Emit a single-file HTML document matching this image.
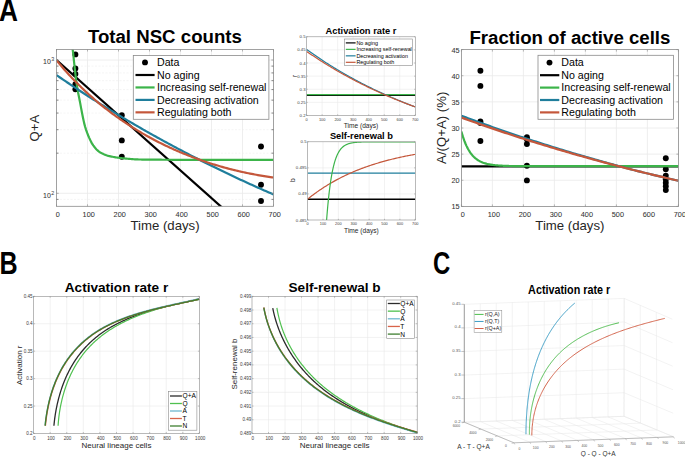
<!DOCTYPE html>
<html><head><meta charset="utf-8"><style>
html,body{margin:0;padding:0;background:#fff;}
body{width:685px;height:457px;overflow:hidden;font-family:"Liberation Sans",sans-serif;}
svg{display:block;}
</style></head><body>
<svg width="685" height="457" viewBox="0 0 685 457" font-family='"Liberation Sans", sans-serif'>
<defs><clipPath id="c1"><rect x="56.5" y="49.5" width="217" height="156.8"/></clipPath><clipPath id="c3"><rect x="461.4" y="49.6" width="217" height="156.8"/></clipPath><clipPath id="cr"><rect x="306.6" y="36.8" width="108.7" height="78.7"/></clipPath><clipPath id="cb"><rect x="307.6" y="141.8" width="107.7" height="78.2"/></clipPath></defs>
<rect width="685" height="457" fill="#fff"/>
<text x="0" y="0" font-size="31" font-weight="bold" fill="#000" transform="translate(-0.9 21) scale(0.847 1)">A</text>
<text x="0" y="0" font-size="31" font-weight="bold" fill="#000" transform="translate(-0.62 273.5) scale(0.81 1)">B</text>
<text x="0" y="0" font-size="31" font-weight="bold" fill="#000" transform="translate(432.9 273.8) scale(0.77 1)">C</text>
<rect x="56.5" y="49.5" width="217" height="156.8" fill="#fff" stroke="none" stroke-width="1"/>
<line x1="56.5" y1="199.4" x2="273.5" y2="199.4" stroke="#f2f2f2" stroke-width="0.8" stroke-dasharray="2 1.5" stroke-linecap="butt"/>
<line x1="56.5" y1="153.17" x2="273.5" y2="153.17" stroke="#f2f2f2" stroke-width="0.8" stroke-dasharray="2 1.5" stroke-linecap="butt"/>
<line x1="56.5" y1="129.7" x2="273.5" y2="129.7" stroke="#f2f2f2" stroke-width="0.8" stroke-dasharray="2 1.5" stroke-linecap="butt"/>
<line x1="56.5" y1="113.05" x2="273.5" y2="113.05" stroke="#f2f2f2" stroke-width="0.8" stroke-dasharray="2 1.5" stroke-linecap="butt"/>
<line x1="56.5" y1="100.13" x2="273.5" y2="100.13" stroke="#f2f2f2" stroke-width="0.8" stroke-dasharray="2 1.5" stroke-linecap="butt"/>
<line x1="56.5" y1="89.57" x2="273.5" y2="89.57" stroke="#f2f2f2" stroke-width="0.8" stroke-dasharray="2 1.5" stroke-linecap="butt"/>
<line x1="56.5" y1="80.65" x2="273.5" y2="80.65" stroke="#f2f2f2" stroke-width="0.8" stroke-dasharray="2 1.5" stroke-linecap="butt"/>
<line x1="56.5" y1="72.92" x2="273.5" y2="72.92" stroke="#f2f2f2" stroke-width="0.8" stroke-dasharray="2 1.5" stroke-linecap="butt"/>
<line x1="56.5" y1="66.1" x2="273.5" y2="66.1" stroke="#f2f2f2" stroke-width="0.8" stroke-dasharray="2 1.5" stroke-linecap="butt"/>
<line x1="56.5" y1="193.3" x2="273.5" y2="193.3" stroke="#eaeaea" stroke-width="0.8" stroke-linecap="butt"/>
<line x1="56.5" y1="60" x2="273.5" y2="60" stroke="#eaeaea" stroke-width="0.8" stroke-linecap="butt"/>
<line x1="87.5" y1="49.5" x2="87.5" y2="206.3" stroke="#eaeaea" stroke-width="0.8" stroke-linecap="butt"/>
<line x1="118.5" y1="49.5" x2="118.5" y2="206.3" stroke="#eaeaea" stroke-width="0.8" stroke-linecap="butt"/>
<line x1="149.5" y1="49.5" x2="149.5" y2="206.3" stroke="#eaeaea" stroke-width="0.8" stroke-linecap="butt"/>
<line x1="180.5" y1="49.5" x2="180.5" y2="206.3" stroke="#eaeaea" stroke-width="0.8" stroke-linecap="butt"/>
<line x1="211.5" y1="49.5" x2="211.5" y2="206.3" stroke="#eaeaea" stroke-width="0.8" stroke-linecap="butt"/>
<line x1="242.5" y1="49.5" x2="242.5" y2="206.3" stroke="#eaeaea" stroke-width="0.8" stroke-linecap="butt"/>
<g clip-path="url(#c1)">
<circle cx="75.4" cy="54.4" r="2.95" fill="#000"/>
<circle cx="75.4" cy="68.5" r="2.95" fill="#000"/>
<circle cx="75.4" cy="73.9" r="2.95" fill="#000"/>
<circle cx="75.4" cy="84.2" r="2.95" fill="#000"/>
<circle cx="75.4" cy="89.3" r="2.95" fill="#000"/>
<circle cx="121.8" cy="115.2" r="2.95" fill="#000"/>
<circle cx="121.8" cy="140.4" r="2.95" fill="#000"/>
<circle cx="121.8" cy="156.8" r="2.95" fill="#000"/>
<circle cx="261" cy="146.5" r="2.95" fill="#000"/>
<circle cx="261" cy="184.7" r="2.95" fill="#000"/>
<circle cx="261" cy="201" r="2.95" fill="#000"/>
<polyline points="56.5,60 222.61,208" fill="none" stroke="#000000" stroke-width="2.2" stroke-linejoin="round"/>
<polyline points="72,45 73.01,52 74.03,61.57 75.04,70.83 76.05,79.57 77.06,86.58 78.08,92.41 79.09,97.46 80.1,102.65 81.11,108.17 82.13,113.44 83.14,118.52 84.15,123.13 85.16,126.85 86.18,130.09 87.19,132.94 88.2,135.48 89.21,137.86 90.23,140.08 91.24,142.12 92.25,143.92 93.26,145.45 94.28,146.78 95.29,148.01 96.3,149.15 97.31,150.18 98.33,151.09 99.34,151.88 100.35,152.53 101.36,153.09 102.38,153.61 103.39,154.09 104.4,154.52 105.41,154.91 106.43,155.26 107.44,155.58 108.45,155.86 109.46,156.11 110.48,156.35 111.49,156.57 112.5,156.78 113.52,156.97 114.53,157.16 115.54,157.33 116.55,157.49 117.57,157.64 118.58,157.78 119.59,157.9 120.6,158.02 121.62,158.13 122.63,158.24 123.64,158.35 124.65,158.45 125.67,158.56 126.68,158.66 127.69,158.75 128.7,158.85 129.72,158.94 130.73,159.02 131.74,159.1 132.75,159.18 133.77,159.24 134.78,159.3 135.79,159.36 136.8,159.41 137.82,159.45 138.83,159.48 139.84,159.5 140.85,159.51 141.87,159.53 142.88,159.54 143.89,159.56 144.9,159.57 145.92,159.58 146.93,159.59 147.94,159.61 148.95,159.62 149.97,159.63 150.98,159.64 151.99,159.65 153.01,159.66 154.02,159.67 155.03,159.68 156.04,159.69 157.06,159.69 158.07,159.7 159.08,159.71 160.09,159.72 161.11,159.72 162.12,159.73 163.13,159.74 164.14,159.74 165.16,159.75 166.17,159.75 167.18,159.76 168.19,159.76 169.21,159.77 170.22,159.77 171.23,159.77 172.24,159.78 173.26,159.78 174.27,159.79 175.28,159.79 176.29,159.79 177.31,159.79 178.32,159.8 179.33,159.8 180.34,159.8 181.36,159.8 182.37,159.8 183.38,159.81 184.39,159.81 185.41,159.81 186.42,159.81 187.43,159.81 188.44,159.82 189.46,159.82 190.47,159.82 191.48,159.82 192.49,159.82 193.51,159.83 194.52,159.83 195.53,159.83 196.55,159.83 197.56,159.83 198.57,159.84 199.58,159.84 200.6,159.84 201.61,159.84 202.62,159.84 203.63,159.84 204.65,159.84 205.66,159.85 206.67,159.85 207.68,159.85 208.7,159.85 209.71,159.85 210.72,159.85 211.73,159.86 212.75,159.86 213.76,159.86 214.77,159.86 215.78,159.86 216.8,159.86 217.81,159.86 218.82,159.87 219.83,159.87 220.85,159.87 221.86,159.87 222.87,159.87 223.88,159.87 224.9,159.87 225.91,159.87 226.92,159.87 227.93,159.88 228.95,159.88 229.96,159.88 230.97,159.88 231.98,159.88 233,159.88 234.01,159.88 235.02,159.88 236.04,159.88 237.05,159.88 238.06,159.89 239.07,159.89 240.09,159.89 241.1,159.89 242.11,159.89 243.12,159.89 244.14,159.89 245.15,159.89 246.16,159.89 247.17,159.89 248.19,159.89 249.2,159.89 250.21,159.89 251.22,159.89 252.24,159.89 253.25,159.9 254.26,159.9 255.27,159.9 256.29,159.9 257.3,159.9 258.31,159.9 259.32,159.9 260.34,159.9 261.35,159.9 262.36,159.9 263.37,159.9 264.39,159.9 265.4,159.9 266.41,159.9 267.42,159.9 268.44,159.9 269.45,159.9 270.46,159.9 271.47,159.9 272.49,159.9 273.5,159.9" fill="none" stroke="#3cb44a" stroke-width="2.2" stroke-linejoin="round"/>
<polyline points="56.5,75.1 58.05,76.16 59.6,77.23 61.15,78.28 62.7,79.34 64.25,80.39 65.8,81.44 67.35,82.48 68.9,83.52 70.45,84.56 72,85.59 73.55,86.62 75.1,87.65 76.65,88.67 78.2,89.69 79.75,90.71 81.3,91.72 82.85,92.73 84.4,93.74 85.95,94.74 87.5,95.74 89.05,96.73 90.6,97.73 92.15,98.72 93.7,99.7 95.25,100.69 96.8,101.67 98.35,102.64 99.9,103.62 101.45,104.59 103,105.55 104.55,106.52 106.1,107.48 107.65,108.43 109.2,109.39 110.75,110.34 112.3,111.29 113.85,112.23 115.4,113.17 116.95,114.11 118.5,115.04 120.05,115.98 121.6,116.91 123.15,117.83 124.7,118.75 126.25,119.67 127.8,120.59 129.35,121.5 130.9,122.41 132.45,123.32 134,124.23 135.55,125.13 137.1,126.03 138.65,126.92 140.2,127.81 141.75,128.7 143.3,129.59 144.85,130.47 146.4,131.35 147.95,132.23 149.5,133.11 151.05,133.98 152.6,134.85 154.15,135.71 155.7,136.58 157.25,137.44 158.8,138.29 160.35,139.15 161.9,140 163.45,140.85 165,141.7 166.55,142.54 168.1,143.38 169.65,144.22 171.2,145.05 172.75,145.88 174.3,146.71 175.85,147.54 177.4,148.36 178.95,149.18 180.5,150 182.05,150.82 183.6,151.63 185.15,152.44 186.7,153.25 188.25,154.05 189.8,154.86 191.35,155.66 192.9,156.45 194.45,157.25 196,158.04 197.55,158.83 199.1,159.61 200.65,160.4 202.2,161.18 203.75,161.96 205.3,162.73 206.85,163.51 208.4,164.28 209.95,165.04 211.5,165.81 213.05,166.57 214.6,167.33 216.15,168.09 217.7,168.85 219.25,169.6 220.8,170.35 222.35,171.1 223.9,171.84 225.45,172.59 227,173.33 228.55,174.07 230.1,174.8 231.65,175.53 233.2,176.26 234.75,176.99 236.3,177.72 237.85,178.44 239.4,179.16 240.95,179.88 242.5,180.6 244.05,181.31 245.6,182.02 247.15,182.73 248.7,183.44 250.25,184.14 251.8,184.85 253.35,185.54 254.9,186.24 256.45,186.94 258,187.63 259.55,188.32 261.1,189.01 262.65,189.69 264.2,190.38 265.75,191.06 267.3,191.74 268.85,192.41 270.4,193.09 271.95,193.76 273.5,194.43" fill="none" stroke="#1f7e9c" stroke-width="2.2" stroke-linejoin="round"/>
<polyline points="56.6,60.37 57.62,61.61 58.63,62.86 59.66,64.09 60.69,65.32 61.72,66.54 62.77,67.76 63.81,68.97 64.87,70.17 65.93,71.36 66.99,72.56 68.07,73.74 69.14,74.92 70.23,76.09 71.32,77.25 72.41,78.41 73.51,79.56 74.62,80.71 75.73,81.85 76.85,82.98 77.98,84.11 79.11,85.23 80.24,86.34 81.38,87.45 82.53,88.55 83.68,89.65 84.84,90.74 86,91.82 87.17,92.9 88.34,93.97 89.52,95.03 90.7,96.09 91.89,97.14 93.08,98.18 94.28,99.22 95.49,100.25 96.7,101.27 97.91,102.29 99.13,103.31 100.35,104.31 101.58,105.31 102.82,106.3 104.06,107.29 105.3,108.27 106.55,109.24 107.8,110.21 109.06,111.17 110.32,112.12 111.59,113.07 112.86,114.01 114.14,114.95 115.42,115.88 116.71,116.8 118,117.72 119.29,118.62 120.59,119.53 121.9,120.42 123.2,121.31 124.52,122.2 125.83,123.07 127.16,123.94 128.48,124.81 129.81,125.66 131.14,126.51 132.48,127.36 133.82,128.2 135.17,129.03 136.52,129.85 137.88,130.67 139.23,131.48 140.6,132.29 141.96,133.09 143.33,133.88 144.71,134.67 146.08,135.44 147.47,136.22 148.85,136.98 150.24,137.74 151.63,138.5 153.03,139.24 154.43,139.98 155.83,140.72 157.24,141.44 158.65,142.16 160.06,142.88 161.48,143.58 162.9,144.29 164.33,144.98 165.75,145.67 167.19,146.35 168.62,147.02 170.06,147.69 171.5,148.35 172.94,149.01 174.39,149.65 175.84,150.3 177.29,150.93 178.75,151.56 180.21,152.18 181.67,152.8 183.14,153.4 184.61,154.01 186.08,154.6 187.55,155.19 189.03,155.77 190.51,156.35 191.99,156.92 193.47,157.48 194.96,158.03 196.45,158.58 197.95,159.13 199.44,159.66 200.94,160.19 202.44,160.71 203.94,161.23 205.45,161.74 206.96,162.24 208.47,162.74 209.98,163.22 211.5,163.71 213.01,164.18 214.53,164.65 216.05,165.11 217.58,165.57 219.11,166.02 220.63,166.46 222.16,166.9 223.7,167.33 225.23,167.75 226.77,168.16 228.31,168.57 229.85,168.97 231.39,169.37 232.93,169.76 234.48,170.14 236.03,170.52 237.58,170.89 239.13,171.25 240.68,171.6 242.24,171.95 243.79,172.29 245.35,172.63 246.91,172.96 248.47,173.28 250.03,173.59 251.6,173.9 253.16,174.2 254.73,174.5 256.3,174.78 257.87,175.06 259.44,175.34 261.01,175.61 262.58,175.87 264.16,176.12 265.73,176.37 267.31,176.61 268.88,176.84 270.46,177.07 272.04,177.29 273.62,177.5" fill="none" stroke="#c4573b" stroke-width="2.2" stroke-linejoin="round"/>
</g>
<rect x="56.5" y="49.5" width="217" height="156.8" fill="none" stroke="#8a8a8a" stroke-width="0.8"/>
<line x1="56.5" y1="206.3" x2="56.5" y2="204.3" stroke="#8a8a8a" stroke-width="0.6" stroke-linecap="butt"/>
<line x1="56.5" y1="49.5" x2="56.5" y2="51.5" stroke="#8a8a8a" stroke-width="0.6" stroke-linecap="butt"/>
<text x="57.7" y="217" font-size="7.3" text-anchor="middle" fill="#333333" stroke="#333" stroke-width="0.05">0</text>
<line x1="87.5" y1="206.3" x2="87.5" y2="204.3" stroke="#8a8a8a" stroke-width="0.6" stroke-linecap="butt"/>
<line x1="87.5" y1="49.5" x2="87.5" y2="51.5" stroke="#8a8a8a" stroke-width="0.6" stroke-linecap="butt"/>
<text x="88.7" y="217" font-size="7.3" text-anchor="middle" fill="#333333" stroke="#333" stroke-width="0.05">100</text>
<line x1="118.5" y1="206.3" x2="118.5" y2="204.3" stroke="#8a8a8a" stroke-width="0.6" stroke-linecap="butt"/>
<line x1="118.5" y1="49.5" x2="118.5" y2="51.5" stroke="#8a8a8a" stroke-width="0.6" stroke-linecap="butt"/>
<text x="119.7" y="217" font-size="7.3" text-anchor="middle" fill="#333333" stroke="#333" stroke-width="0.05">200</text>
<line x1="149.5" y1="206.3" x2="149.5" y2="204.3" stroke="#8a8a8a" stroke-width="0.6" stroke-linecap="butt"/>
<line x1="149.5" y1="49.5" x2="149.5" y2="51.5" stroke="#8a8a8a" stroke-width="0.6" stroke-linecap="butt"/>
<text x="150.7" y="217" font-size="7.3" text-anchor="middle" fill="#333333" stroke="#333" stroke-width="0.05">300</text>
<line x1="180.5" y1="206.3" x2="180.5" y2="204.3" stroke="#8a8a8a" stroke-width="0.6" stroke-linecap="butt"/>
<line x1="180.5" y1="49.5" x2="180.5" y2="51.5" stroke="#8a8a8a" stroke-width="0.6" stroke-linecap="butt"/>
<text x="181.7" y="217" font-size="7.3" text-anchor="middle" fill="#333333" stroke="#333" stroke-width="0.05">400</text>
<line x1="211.5" y1="206.3" x2="211.5" y2="204.3" stroke="#8a8a8a" stroke-width="0.6" stroke-linecap="butt"/>
<line x1="211.5" y1="49.5" x2="211.5" y2="51.5" stroke="#8a8a8a" stroke-width="0.6" stroke-linecap="butt"/>
<text x="212.7" y="217" font-size="7.3" text-anchor="middle" fill="#333333" stroke="#333" stroke-width="0.05">500</text>
<line x1="242.5" y1="206.3" x2="242.5" y2="204.3" stroke="#8a8a8a" stroke-width="0.6" stroke-linecap="butt"/>
<line x1="242.5" y1="49.5" x2="242.5" y2="51.5" stroke="#8a8a8a" stroke-width="0.6" stroke-linecap="butt"/>
<text x="243.7" y="217" font-size="7.3" text-anchor="middle" fill="#333333" stroke="#333" stroke-width="0.05">600</text>
<line x1="273.5" y1="206.3" x2="273.5" y2="204.3" stroke="#8a8a8a" stroke-width="0.6" stroke-linecap="butt"/>
<line x1="273.5" y1="49.5" x2="273.5" y2="51.5" stroke="#8a8a8a" stroke-width="0.6" stroke-linecap="butt"/>
<text x="274.7" y="217" font-size="7.3" text-anchor="middle" fill="#333333" stroke="#333" stroke-width="0.05">700</text>
<line x1="56.5" y1="193.3" x2="58.7" y2="193.3" stroke="#8a8a8a" stroke-width="0.7" stroke-linecap="butt"/>
<line x1="273.5" y1="193.3" x2="271.3" y2="193.3" stroke="#8a8a8a" stroke-width="0.7" stroke-linecap="butt"/>
<line x1="56.5" y1="60" x2="58.7" y2="60" stroke="#8a8a8a" stroke-width="0.7" stroke-linecap="butt"/>
<line x1="273.5" y1="60" x2="271.3" y2="60" stroke="#8a8a8a" stroke-width="0.7" stroke-linecap="butt"/>
<line x1="56.5" y1="199.4" x2="58.5" y2="199.4" stroke="#666" stroke-width="0.8" stroke-linecap="butt"/>
<line x1="273.5" y1="199.4" x2="271.5" y2="199.4" stroke="#666" stroke-width="0.8" stroke-linecap="butt"/>
<line x1="56.5" y1="153.17" x2="58.5" y2="153.17" stroke="#666" stroke-width="0.8" stroke-linecap="butt"/>
<line x1="273.5" y1="153.17" x2="271.5" y2="153.17" stroke="#666" stroke-width="0.8" stroke-linecap="butt"/>
<line x1="56.5" y1="129.7" x2="58.5" y2="129.7" stroke="#666" stroke-width="0.8" stroke-linecap="butt"/>
<line x1="273.5" y1="129.7" x2="271.5" y2="129.7" stroke="#666" stroke-width="0.8" stroke-linecap="butt"/>
<line x1="56.5" y1="113.05" x2="58.5" y2="113.05" stroke="#666" stroke-width="0.8" stroke-linecap="butt"/>
<line x1="273.5" y1="113.05" x2="271.5" y2="113.05" stroke="#666" stroke-width="0.8" stroke-linecap="butt"/>
<line x1="56.5" y1="100.13" x2="58.5" y2="100.13" stroke="#666" stroke-width="0.8" stroke-linecap="butt"/>
<line x1="273.5" y1="100.13" x2="271.5" y2="100.13" stroke="#666" stroke-width="0.8" stroke-linecap="butt"/>
<line x1="56.5" y1="89.57" x2="58.5" y2="89.57" stroke="#666" stroke-width="0.8" stroke-linecap="butt"/>
<line x1="273.5" y1="89.57" x2="271.5" y2="89.57" stroke="#666" stroke-width="0.8" stroke-linecap="butt"/>
<line x1="56.5" y1="80.65" x2="58.5" y2="80.65" stroke="#666" stroke-width="0.8" stroke-linecap="butt"/>
<line x1="273.5" y1="80.65" x2="271.5" y2="80.65" stroke="#666" stroke-width="0.8" stroke-linecap="butt"/>
<line x1="56.5" y1="72.92" x2="58.5" y2="72.92" stroke="#666" stroke-width="0.8" stroke-linecap="butt"/>
<line x1="273.5" y1="72.92" x2="271.5" y2="72.92" stroke="#666" stroke-width="0.8" stroke-linecap="butt"/>
<line x1="56.5" y1="66.1" x2="58.5" y2="66.1" stroke="#666" stroke-width="0.8" stroke-linecap="butt"/>
<line x1="273.5" y1="66.1" x2="271.5" y2="66.1" stroke="#666" stroke-width="0.8" stroke-linecap="butt"/>
<text x="50.8" y="198" font-size="7.0" text-anchor="end" fill="#333333" stroke="#333" stroke-width="0.05">10</text>
<text x="51.2" y="194.8" font-size="5.4" text-anchor="start" fill="#3a3a3a">2</text>
<text x="50.8" y="64.4" font-size="7.0" text-anchor="end" fill="#333333" stroke="#333" stroke-width="0.05">10</text>
<text x="51.2" y="61.2" font-size="5.4" text-anchor="start" fill="#3a3a3a">3</text>
<rect x="133.3" y="55.5" width="135.6" height="63.8" fill="#fff" stroke="#8a8a8a" stroke-width="0.8"/>
<circle cx="145" cy="62.4" r="2.95" fill="#000"/>
<text x="157" y="66.1" font-size="10.65" text-anchor="start" fill="#000">Data</text>
<line x1="135.5" y1="75" x2="154.6" y2="75" stroke="#000000" stroke-width="2.2" stroke-linecap="butt"/>
<text x="157" y="78.6" font-size="10.65" text-anchor="start" fill="#000">No aging</text>
<line x1="135.5" y1="87.45" x2="154.6" y2="87.45" stroke="#3cb44a" stroke-width="2.2" stroke-linecap="butt"/>
<text x="157" y="91.05" font-size="10.65" text-anchor="start" fill="#000">Increasing self-renewal</text>
<line x1="135.5" y1="99.9" x2="154.6" y2="99.9" stroke="#1f7e9c" stroke-width="2.2" stroke-linecap="butt"/>
<text x="157" y="103.5" font-size="10.65" text-anchor="start" fill="#000">Decreasing activation</text>
<line x1="135.5" y1="112.35" x2="154.6" y2="112.35" stroke="#c4573b" stroke-width="2.2" stroke-linecap="butt"/>
<text x="157" y="115.95" font-size="10.65" text-anchor="start" fill="#000">Regulating both</text>
<text x="164.9" y="43.4" font-size="18.65" text-anchor="middle" font-weight="bold" fill="#000">Total NSC counts</text>
<text x="165" y="230.4" font-size="13.2" text-anchor="middle" fill="#262626">Time (days)</text>
<text x="39.4" y="128" font-size="13.2" text-anchor="middle" fill="#262626" transform="rotate(-90 39.4 128)">Q+A</text>
<rect x="461.4" y="49.6" width="217" height="156.8" fill="#fff" stroke="none" stroke-width="1"/>
<line x1="461.4" y1="180.27" x2="678.4" y2="180.27" stroke="#eaeaea" stroke-width="0.8" stroke-linecap="butt"/>
<line x1="461.4" y1="154.13" x2="678.4" y2="154.13" stroke="#eaeaea" stroke-width="0.8" stroke-linecap="butt"/>
<line x1="461.4" y1="128" x2="678.4" y2="128" stroke="#eaeaea" stroke-width="0.8" stroke-linecap="butt"/>
<line x1="461.4" y1="101.87" x2="678.4" y2="101.87" stroke="#eaeaea" stroke-width="0.8" stroke-linecap="butt"/>
<line x1="461.4" y1="75.73" x2="678.4" y2="75.73" stroke="#eaeaea" stroke-width="0.8" stroke-linecap="butt"/>
<line x1="492.4" y1="49.6" x2="492.4" y2="206.4" stroke="#eaeaea" stroke-width="0.8" stroke-linecap="butt"/>
<line x1="523.4" y1="49.6" x2="523.4" y2="206.4" stroke="#eaeaea" stroke-width="0.8" stroke-linecap="butt"/>
<line x1="554.4" y1="49.6" x2="554.4" y2="206.4" stroke="#eaeaea" stroke-width="0.8" stroke-linecap="butt"/>
<line x1="585.4" y1="49.6" x2="585.4" y2="206.4" stroke="#eaeaea" stroke-width="0.8" stroke-linecap="butt"/>
<line x1="616.4" y1="49.6" x2="616.4" y2="206.4" stroke="#eaeaea" stroke-width="0.8" stroke-linecap="butt"/>
<line x1="647.4" y1="49.6" x2="647.4" y2="206.4" stroke="#eaeaea" stroke-width="0.8" stroke-linecap="butt"/>
<g clip-path="url(#c3)">
<circle cx="480.4" cy="70.8" r="2.95" fill="#000"/>
<circle cx="480.4" cy="85.9" r="2.95" fill="#000"/>
<circle cx="480.4" cy="121.4" r="2.95" fill="#000"/>
<circle cx="480.4" cy="123" r="2.95" fill="#000"/>
<circle cx="480.4" cy="141" r="2.95" fill="#000"/>
<circle cx="526.9" cy="137.3" r="2.95" fill="#000"/>
<circle cx="526.9" cy="139.3" r="2.95" fill="#000"/>
<circle cx="526.9" cy="144" r="2.95" fill="#000"/>
<circle cx="526.9" cy="165.7" r="2.95" fill="#000"/>
<circle cx="526.9" cy="180.4" r="2.95" fill="#000"/>
<circle cx="665.8" cy="158.2" r="2.95" fill="#000"/>
<circle cx="665.8" cy="169.2" r="2.95" fill="#000"/>
<circle cx="665.8" cy="175.6" r="2.95" fill="#000"/>
<circle cx="665.8" cy="179.2" r="2.95" fill="#000"/>
<circle cx="665.8" cy="182.7" r="2.95" fill="#000"/>
<circle cx="665.8" cy="186.2" r="2.95" fill="#000"/>
<circle cx="665.8" cy="190.1" r="2.95" fill="#000"/>
<line x1="461.4" y1="166.4" x2="678.4" y2="166.4" stroke="#000000" stroke-width="2.2" stroke-linecap="butt"/>
<polyline points="461.4,131.5 462.13,134.05 462.85,136.42 463.58,138.61 464.3,140.64 465.03,142.52 465.75,144.26 466.48,145.87 467.21,147.37 467.93,148.75 468.66,150.04 469.38,151.22 470.11,152.33 470.83,153.35 471.56,154.29 472.29,155.17 473.01,155.98 473.74,156.73 474.46,157.43 475.19,158.07 475.92,158.67 476.64,159.22 477.37,159.74 478.09,160.21 478.82,160.65 479.54,161.06 480.27,161.44 481,161.79 481.72,162.11 482.45,162.41 483.17,162.69 483.9,162.95 484.62,163.19 485.35,163.41 486.08,163.62 486.8,163.81 487.53,163.98 488.25,164.15 488.98,164.3 489.7,164.44 490.43,164.57 491.16,164.69 491.88,164.8 492.61,164.9 493.33,165 494.06,165.08 494.78,165.17 495.51,165.24 496.24,165.31 496.96,165.38 497.69,165.44 498.41,165.49 499.14,165.55 499.86,165.59 500.59,165.64 501.32,165.68 502.04,165.72 502.77,165.75 503.49,165.79 504.22,165.82 504.95,165.85 505.67,165.87 506.4,165.9 507.12,165.92 507.85,165.94 508.57,165.96 509.3,165.98 510.03,165.99 510.75,166.01 511.48,166.02 512.2,166.03 512.93,166.05 513.65,166.06 514.38,166.07 515.11,166.08 515.83,166.09 516.56,166.1 517.28,166.1 518.01,166.11 518.73,166.12 519.46,166.12 520.19,166.13 520.91,166.13 521.64,166.14 522.36,166.14 523.09,166.15 523.81,166.15 524.54,166.15 525.27,166.16 525.99,166.16 526.72,166.16 527.44,166.17 528.17,166.17 528.89,166.17 529.62,166.17 530.35,166.18 531.07,166.18 531.8,166.18 532.52,166.18 533.25,166.18 533.98,166.18 534.7,166.18 535.43,166.19 536.15,166.19 536.88,166.19 537.6,166.19 538.33,166.19 539.06,166.19 539.78,166.19 540.51,166.19 541.23,166.19 541.96,166.19 542.68,166.19 543.41,166.19 544.14,166.19 544.86,166.19 545.59,166.2 546.31,166.2 547.04,166.2 547.76,166.2 548.49,166.2 549.22,166.2 549.94,166.2 550.67,166.2 551.39,166.2 552.12,166.2 552.84,166.2 553.57,166.2 554.3,166.2 555.02,166.2 555.75,166.2 556.47,166.2 557.2,166.2 557.93,166.2 558.65,166.2 559.38,166.2 560.1,166.2 560.83,166.2 561.55,166.2 562.28,166.2 563.01,166.2 563.73,166.2 564.46,166.2 565.18,166.2 565.91,166.2 566.63,166.2 567.36,166.2 568.09,166.2 568.81,166.2 569.54,166.2 570.26,166.2 570.99,166.2 571.71,166.2 572.44,166.2 573.17,166.2 573.89,166.2 574.62,166.2 575.34,166.2 576.07,166.2 576.79,166.2 577.52,166.2 578.25,166.2 578.97,166.2 579.7,166.2 580.42,166.2 581.15,166.2 581.87,166.2 582.6,166.2 583.33,166.2 584.05,166.2 584.78,166.2 585.5,166.2 586.23,166.2 586.96,166.2 587.68,166.2 588.41,166.2 589.13,166.2 589.86,166.2 590.58,166.2 591.31,166.2 592.04,166.2 592.76,166.2 593.49,166.2 594.21,166.2 594.94,166.2 595.66,166.2 596.39,166.2 597.12,166.2 597.84,166.2 598.57,166.2 599.29,166.2 600.02,166.2 600.74,166.2 601.47,166.2 602.2,166.2 602.92,166.2 603.65,166.2 604.37,166.2 605.1,166.2 605.82,166.2 606.55,166.2 607.28,166.2 608,166.2 608.73,166.2 609.45,166.2 610.18,166.2 610.91,166.2 611.63,166.2 612.36,166.2 613.08,166.2 613.81,166.2 614.53,166.2 615.26,166.2 615.99,166.2 616.71,166.2 617.44,166.2 618.16,166.2 618.89,166.2 619.61,166.2 620.34,166.2 621.07,166.2 621.79,166.2 622.52,166.2 623.24,166.2 623.97,166.2 624.69,166.2 625.42,166.2 626.15,166.2 626.87,166.2 627.6,166.2 628.32,166.2 629.05,166.2 629.77,166.2 630.5,166.2 631.23,166.2 631.95,166.2 632.68,166.2 633.4,166.2 634.13,166.2 634.85,166.2 635.58,166.2 636.31,166.2 637.03,166.2 637.76,166.2 638.48,166.2 639.21,166.2 639.94,166.2 640.66,166.2 641.39,166.2 642.11,166.2 642.84,166.2 643.56,166.2 644.29,166.2 645.02,166.2 645.74,166.2 646.47,166.2 647.19,166.2 647.92,166.2 648.64,166.2 649.37,166.2 650.1,166.2 650.82,166.2 651.55,166.2 652.27,166.2 653,166.2 653.72,166.2 654.45,166.2 655.18,166.2 655.9,166.2 656.63,166.2 657.35,166.2 658.08,166.2 658.8,166.2 659.53,166.2 660.26,166.2 660.98,166.2 661.71,166.2 662.43,166.2 663.16,166.2 663.88,166.2 664.61,166.2 665.34,166.2 666.06,166.2 666.79,166.2 667.51,166.2 668.24,166.2 668.97,166.2 669.69,166.2 670.42,166.2 671.14,166.2 671.87,166.2 672.59,166.2 673.32,166.2 674.05,166.2 674.77,166.2 675.5,166.2 676.22,166.2 676.95,166.2 677.67,166.2 678.4,166.2" fill="none" stroke="#3cb44a" stroke-width="2.2" stroke-linejoin="round"/>
<polyline points="461.4,115.75 463.59,116.57 465.78,117.39 467.98,118.2 470.17,119.01 472.36,119.82 474.55,120.63 476.74,121.42 478.94,122.22 481.13,123.01 483.32,123.8 485.51,124.59 487.7,125.37 489.89,126.15 492.09,126.92 494.28,127.69 496.47,128.46 498.66,129.22 500.85,129.98 503.05,130.74 505.24,131.49 507.43,132.24 509.62,132.99 511.81,133.73 514.01,134.47 516.2,135.2 518.39,135.94 520.58,136.67 522.77,137.39 524.97,138.11 527.16,138.83 529.35,139.55 531.54,140.26 533.73,140.97 535.93,141.67 538.12,142.38 540.31,143.08 542.5,143.77 544.69,144.46 546.88,145.15 549.08,145.84 551.27,146.52 553.46,147.2 555.65,147.88 557.84,148.55 560.04,149.22 562.23,149.89 564.42,150.55 566.61,151.22 568.8,151.87 571,152.53 573.19,153.18 575.38,153.83 577.57,154.48 579.76,155.12 581.96,155.76 584.15,156.4 586.34,157.03 588.53,157.66 590.72,158.29 592.92,158.92 595.11,159.54 597.3,160.16 599.49,160.78 601.68,161.39 603.87,162 606.07,162.61 608.26,163.21 610.45,163.82 612.64,164.42 614.83,165.02 617.03,165.61 619.22,166.2 621.41,166.79 623.6,167.38 625.79,167.96 627.99,168.54 630.18,169.12 632.37,169.7 634.56,170.27 636.75,170.82 638.95,171.37 641.14,171.91 643.33,172.45 645.52,172.99 647.71,173.52 649.91,174.05 652.1,174.58 654.29,175.11 656.48,175.63 658.67,176.16 660.86,176.68 663.06,177.19 665.25,177.71 667.44,178.22 669.63,178.73 671.82,179.24 674.02,179.74 676.21,180.24 678.4,180.74" fill="none" stroke="#1f7e9c" stroke-width="2.2" stroke-linejoin="round"/>
<polyline points="461.4,117.55 463.59,118.35 465.78,119.14 467.98,119.93 470.17,120.72 472.36,121.51 474.55,122.29 476.74,123.07 478.94,123.84 481.13,124.61 483.32,125.38 485.51,126.14 487.7,126.9 489.89,127.65 492.09,128.4 494.28,129.15 496.47,129.9 498.66,130.64 500.85,131.37 503.05,132.11 505.24,132.84 507.43,133.56 509.62,134.29 511.81,135.01 514.01,135.72 516.2,136.44 518.39,137.15 520.58,137.85 522.77,138.55 524.97,139.25 527.16,139.95 529.35,140.64 531.54,141.33 533.73,142.02 535.93,142.7 538.12,143.38 540.31,144.06 542.5,144.73 544.69,145.4 546.88,146.07 549.08,146.73 551.27,147.39 553.46,148.05 555.65,148.7 557.84,149.35 560.04,150 562.23,150.64 564.42,151.29 566.61,151.92 568.8,152.56 571,153.19 573.19,153.82 575.38,154.45 577.57,155.07 579.76,155.69 581.96,156.31 584.15,156.92 586.34,157.54 588.53,158.14 590.72,158.75 592.92,159.35 595.11,159.95 597.3,160.55 599.49,161.14 601.68,161.73 603.87,162.32 606.07,162.91 608.26,163.49 610.45,164.07 612.64,164.65 614.83,165.22 617.03,165.8 619.22,166.37 621.41,166.93 623.6,167.5 625.79,168.06 627.99,168.61 630.18,169.17 632.37,169.72 634.56,170.27 636.75,170.82 638.95,171.37 641.14,171.91 643.33,172.45 645.52,172.99 647.71,173.52 649.91,174.05 652.1,174.58 654.29,175.11 656.48,175.63 658.67,176.16 660.86,176.68 663.06,177.19 665.25,177.71 667.44,178.22 669.63,178.73 671.82,179.24 674.02,179.74 676.21,180.24 678.4,180.74" fill="none" stroke="#c4573b" stroke-width="2.2" stroke-linejoin="round"/>
</g>
<rect x="461.4" y="49.6" width="217" height="156.8" fill="none" stroke="#8a8a8a" stroke-width="0.8"/>
<line x1="461.4" y1="206.4" x2="461.4" y2="204.4" stroke="#8a8a8a" stroke-width="0.6" stroke-linecap="butt"/>
<line x1="461.4" y1="49.6" x2="461.4" y2="51.6" stroke="#8a8a8a" stroke-width="0.6" stroke-linecap="butt"/>
<text x="462.9" y="217" font-size="7.3" text-anchor="middle" fill="#333333" stroke="#333" stroke-width="0.05">0</text>
<line x1="492.4" y1="206.4" x2="492.4" y2="204.4" stroke="#8a8a8a" stroke-width="0.6" stroke-linecap="butt"/>
<line x1="492.4" y1="49.6" x2="492.4" y2="51.6" stroke="#8a8a8a" stroke-width="0.6" stroke-linecap="butt"/>
<text x="493.9" y="217" font-size="7.3" text-anchor="middle" fill="#333333" stroke="#333" stroke-width="0.05">100</text>
<line x1="523.4" y1="206.4" x2="523.4" y2="204.4" stroke="#8a8a8a" stroke-width="0.6" stroke-linecap="butt"/>
<line x1="523.4" y1="49.6" x2="523.4" y2="51.6" stroke="#8a8a8a" stroke-width="0.6" stroke-linecap="butt"/>
<text x="524.9" y="217" font-size="7.3" text-anchor="middle" fill="#333333" stroke="#333" stroke-width="0.05">200</text>
<line x1="554.4" y1="206.4" x2="554.4" y2="204.4" stroke="#8a8a8a" stroke-width="0.6" stroke-linecap="butt"/>
<line x1="554.4" y1="49.6" x2="554.4" y2="51.6" stroke="#8a8a8a" stroke-width="0.6" stroke-linecap="butt"/>
<text x="555.9" y="217" font-size="7.3" text-anchor="middle" fill="#333333" stroke="#333" stroke-width="0.05">300</text>
<line x1="585.4" y1="206.4" x2="585.4" y2="204.4" stroke="#8a8a8a" stroke-width="0.6" stroke-linecap="butt"/>
<line x1="585.4" y1="49.6" x2="585.4" y2="51.6" stroke="#8a8a8a" stroke-width="0.6" stroke-linecap="butt"/>
<text x="586.9" y="217" font-size="7.3" text-anchor="middle" fill="#333333" stroke="#333" stroke-width="0.05">400</text>
<line x1="616.4" y1="206.4" x2="616.4" y2="204.4" stroke="#8a8a8a" stroke-width="0.6" stroke-linecap="butt"/>
<line x1="616.4" y1="49.6" x2="616.4" y2="51.6" stroke="#8a8a8a" stroke-width="0.6" stroke-linecap="butt"/>
<text x="617.9" y="217" font-size="7.3" text-anchor="middle" fill="#333333" stroke="#333" stroke-width="0.05">500</text>
<line x1="647.4" y1="206.4" x2="647.4" y2="204.4" stroke="#8a8a8a" stroke-width="0.6" stroke-linecap="butt"/>
<line x1="647.4" y1="49.6" x2="647.4" y2="51.6" stroke="#8a8a8a" stroke-width="0.6" stroke-linecap="butt"/>
<text x="648.9" y="217" font-size="7.3" text-anchor="middle" fill="#333333" stroke="#333" stroke-width="0.05">600</text>
<line x1="678.4" y1="206.4" x2="678.4" y2="204.4" stroke="#8a8a8a" stroke-width="0.6" stroke-linecap="butt"/>
<line x1="678.4" y1="49.6" x2="678.4" y2="51.6" stroke="#8a8a8a" stroke-width="0.6" stroke-linecap="butt"/>
<text x="679.9" y="217" font-size="7.3" text-anchor="middle" fill="#333333" stroke="#333" stroke-width="0.05">700</text>
<line x1="461.4" y1="206.4" x2="463.4" y2="206.4" stroke="#8a8a8a" stroke-width="0.6" stroke-linecap="butt"/>
<line x1="678.4" y1="206.4" x2="676.4" y2="206.4" stroke="#8a8a8a" stroke-width="0.6" stroke-linecap="butt"/>
<text x="459.5" y="209.3" font-size="7.3" text-anchor="end" fill="#333333" stroke="#333" stroke-width="0.05">15</text>
<line x1="461.4" y1="180.27" x2="463.4" y2="180.27" stroke="#8a8a8a" stroke-width="0.6" stroke-linecap="butt"/>
<line x1="678.4" y1="180.27" x2="676.4" y2="180.27" stroke="#8a8a8a" stroke-width="0.6" stroke-linecap="butt"/>
<text x="459.5" y="183.17" font-size="7.3" text-anchor="end" fill="#333333" stroke="#333" stroke-width="0.05">20</text>
<line x1="461.4" y1="154.13" x2="463.4" y2="154.13" stroke="#8a8a8a" stroke-width="0.6" stroke-linecap="butt"/>
<line x1="678.4" y1="154.13" x2="676.4" y2="154.13" stroke="#8a8a8a" stroke-width="0.6" stroke-linecap="butt"/>
<text x="459.5" y="157.03" font-size="7.3" text-anchor="end" fill="#333333" stroke="#333" stroke-width="0.05">25</text>
<line x1="461.4" y1="128" x2="463.4" y2="128" stroke="#8a8a8a" stroke-width="0.6" stroke-linecap="butt"/>
<line x1="678.4" y1="128" x2="676.4" y2="128" stroke="#8a8a8a" stroke-width="0.6" stroke-linecap="butt"/>
<text x="459.5" y="130.9" font-size="7.3" text-anchor="end" fill="#333333" stroke="#333" stroke-width="0.05">30</text>
<line x1="461.4" y1="101.87" x2="463.4" y2="101.87" stroke="#8a8a8a" stroke-width="0.6" stroke-linecap="butt"/>
<line x1="678.4" y1="101.87" x2="676.4" y2="101.87" stroke="#8a8a8a" stroke-width="0.6" stroke-linecap="butt"/>
<text x="459.5" y="104.77" font-size="7.3" text-anchor="end" fill="#333333" stroke="#333" stroke-width="0.05">35</text>
<line x1="461.4" y1="75.73" x2="463.4" y2="75.73" stroke="#8a8a8a" stroke-width="0.6" stroke-linecap="butt"/>
<line x1="678.4" y1="75.73" x2="676.4" y2="75.73" stroke="#8a8a8a" stroke-width="0.6" stroke-linecap="butt"/>
<text x="459.5" y="78.63" font-size="7.3" text-anchor="end" fill="#333333" stroke="#333" stroke-width="0.05">40</text>
<line x1="461.4" y1="49.6" x2="463.4" y2="49.6" stroke="#8a8a8a" stroke-width="0.6" stroke-linecap="butt"/>
<line x1="678.4" y1="49.6" x2="676.4" y2="49.6" stroke="#8a8a8a" stroke-width="0.6" stroke-linecap="butt"/>
<text x="459.5" y="52.5" font-size="7.3" text-anchor="end" fill="#333333" stroke="#333" stroke-width="0.05">45</text>
<rect x="538" y="55.3" width="135.4" height="64" fill="#fff" stroke="#8a8a8a" stroke-width="0.8"/>
<circle cx="549.5" cy="62.6" r="2.95" fill="#000"/>
<text x="561.3" y="66.2" font-size="10.65" text-anchor="start" fill="#000">Data</text>
<line x1="540" y1="75.2" x2="559.3" y2="75.2" stroke="#000000" stroke-width="2.2" stroke-linecap="butt"/>
<text x="561.3" y="78.8" font-size="10.65" text-anchor="start" fill="#000">No aging</text>
<line x1="540" y1="87.6" x2="559.3" y2="87.6" stroke="#3cb44a" stroke-width="2.2" stroke-linecap="butt"/>
<text x="561.3" y="91.2" font-size="10.65" text-anchor="start" fill="#000">Increasing self-renewal</text>
<line x1="540" y1="100" x2="559.3" y2="100" stroke="#1f7e9c" stroke-width="2.2" stroke-linecap="butt"/>
<text x="561.3" y="103.6" font-size="10.65" text-anchor="start" fill="#000">Decreasing activation</text>
<line x1="540" y1="112.4" x2="559.3" y2="112.4" stroke="#c4573b" stroke-width="2.2" stroke-linecap="butt"/>
<text x="561.3" y="116" font-size="10.65" text-anchor="start" fill="#000">Regulating both</text>
<text x="569.9" y="43.9" font-size="18.65" text-anchor="middle" font-weight="bold" fill="#000">Fraction of active cells</text>
<text x="569.9" y="230.4" font-size="13.2" text-anchor="middle" fill="#262626">Time (days)</text>
<text x="446.5" y="127.8" font-size="13.2" text-anchor="middle" fill="#262626" transform="rotate(-90 446.5 127.8)">A/(Q+A) (%)</text>
<rect x="306.6" y="36.8" width="108.7" height="78.7" fill="#fff" stroke="none" stroke-width="1"/>
<line x1="306.6" y1="102.38" x2="415.3" y2="102.38" stroke="#eaeaea" stroke-width="0.6" stroke-linecap="butt"/>
<line x1="306.6" y1="89.27" x2="415.3" y2="89.27" stroke="#eaeaea" stroke-width="0.6" stroke-linecap="butt"/>
<line x1="306.6" y1="76.15" x2="415.3" y2="76.15" stroke="#eaeaea" stroke-width="0.6" stroke-linecap="butt"/>
<line x1="306.6" y1="63.03" x2="415.3" y2="63.03" stroke="#eaeaea" stroke-width="0.6" stroke-linecap="butt"/>
<line x1="306.6" y1="49.92" x2="415.3" y2="49.92" stroke="#eaeaea" stroke-width="0.6" stroke-linecap="butt"/>
<line x1="322.13" y1="36.8" x2="322.13" y2="115.5" stroke="#eaeaea" stroke-width="0.6" stroke-linecap="butt"/>
<line x1="337.66" y1="36.8" x2="337.66" y2="115.5" stroke="#eaeaea" stroke-width="0.6" stroke-linecap="butt"/>
<line x1="353.19" y1="36.8" x2="353.19" y2="115.5" stroke="#eaeaea" stroke-width="0.6" stroke-linecap="butt"/>
<line x1="368.71" y1="36.8" x2="368.71" y2="115.5" stroke="#eaeaea" stroke-width="0.6" stroke-linecap="butt"/>
<line x1="384.24" y1="36.8" x2="384.24" y2="115.5" stroke="#eaeaea" stroke-width="0.6" stroke-linecap="butt"/>
<line x1="399.77" y1="36.8" x2="399.77" y2="115.5" stroke="#eaeaea" stroke-width="0.6" stroke-linecap="butt"/>
<g clip-path="url(#cr)">
<line x1="306.6" y1="95.3" x2="415.3" y2="95.3" stroke="#000000" stroke-width="1.4" stroke-linecap="butt"/>
<line x1="306.6" y1="94.7" x2="415.3" y2="94.7" stroke="#3cb44a" stroke-width="1.2" stroke-linecap="butt"/>
<polyline points="306.6,49.39 307.7,50.18 308.8,50.97 309.89,51.75 310.99,52.53 312.09,53.3 313.19,54.07 314.29,54.83 315.38,55.59 316.48,56.34 317.58,57.09 318.68,57.83 319.78,58.56 320.87,59.29 321.97,60.02 323.07,60.74 324.17,61.46 325.27,62.17 326.36,62.88 327.46,63.58 328.56,64.28 329.66,64.97 330.76,65.66 331.85,66.35 332.95,67.03 334.05,67.7 335.15,68.37 336.25,69.04 337.34,69.7 338.44,70.35 339.54,71.01 340.64,71.66 341.74,72.3 342.83,72.94 343.93,73.57 345.03,74.21 346.13,74.83 347.23,75.46 348.32,76.07 349.42,76.69 350.52,77.3 351.62,77.9 352.72,78.51 353.81,79.11 354.91,79.7 356.01,80.29 357.11,80.88 358.21,81.46 359.3,82.04 360.4,82.61 361.5,83.18 362.6,83.75 363.69,84.31 364.79,84.87 365.89,85.43 366.99,85.98 368.09,86.53 369.18,87.07 370.28,87.61 371.38,88.15 372.48,88.68 373.58,89.21 374.67,89.74 375.77,90.26 376.87,90.78 377.97,91.3 379.07,91.81 380.16,92.32 381.26,92.83 382.36,93.33 383.46,93.83 384.56,94.32 385.65,94.82 386.75,95.3 387.85,95.79 388.95,96.27 390.05,96.75 391.14,97.23 392.24,97.7 393.34,98.17 394.44,98.64 395.54,99.1 396.63,99.56 397.73,100.02 398.83,100.47 399.93,100.92 401.03,101.37 402.12,101.82 403.22,102.26 404.32,102.7 405.42,103.14 406.52,103.57 407.61,104 408.71,104.43 409.81,104.85 410.91,105.27 412.01,105.69 413.1,106.11 414.2,106.52 415.3,106.93" fill="none" stroke="#1f7e9c" stroke-width="1.2" stroke-linejoin="round"/>
<polyline points="306.6,51.39 307.7,52.15 308.8,52.9 309.89,53.65 310.99,54.4 312.09,55.14 313.19,55.87 314.29,56.6 315.38,57.33 316.48,58.05 317.58,58.77 318.68,59.48 319.78,60.19 320.87,60.89 321.97,61.59 323.07,62.28 324.17,62.97 325.27,63.65 326.36,64.33 327.46,65.01 328.56,65.68 329.66,66.35 330.76,67.01 331.85,67.67 332.95,68.32 334.05,68.97 335.15,69.62 336.25,70.26 337.34,70.9 338.44,71.53 339.54,72.16 340.64,72.78 341.74,73.4 342.83,74.02 343.93,74.63 345.03,75.24 346.13,75.84 347.23,76.45 348.32,77.04 349.42,77.63 350.52,78.22 351.62,78.81 352.72,79.39 353.81,79.97 354.91,80.54 356.01,81.11 357.11,81.68 358.21,82.24 359.3,82.8 360.4,83.35 361.5,83.91 362.6,84.45 363.69,85 364.79,85.54 365.89,86.08 366.99,86.61 368.09,87.14 369.18,87.67 370.28,88.19 371.38,88.71 372.48,89.23 373.58,89.74 374.67,90.25 375.77,90.76 376.87,91.26 377.97,91.76 379.07,92.26 380.16,92.75 381.26,93.24 382.36,93.73 383.46,94.21 384.56,94.69 385.65,95.17 386.75,95.65 387.85,96.12 388.95,96.59 390.05,97.05 391.14,97.51 392.24,97.97 393.34,98.43 394.44,98.88 395.54,99.33 396.63,99.78 397.73,100.23 398.83,100.67 399.93,101.11 401.03,101.54 402.12,101.98 403.22,102.41 404.32,102.83 405.42,103.26 406.52,103.68 407.61,104.1 408.71,104.51 409.81,104.93 410.91,105.34 412.01,105.75 413.1,106.15 414.2,106.56 415.3,106.96" fill="none" stroke="#c4573b" stroke-width="1.2" stroke-linejoin="round"/>
</g>
<rect x="306.6" y="36.8" width="108.7" height="78.7" fill="none" stroke="#8a8a8a" stroke-width="0.6"/>
<line x1="306.6" y1="115.5" x2="306.6" y2="114.3" stroke="#8a8a8a" stroke-width="0.5" stroke-linecap="butt"/>
<text x="306.6" y="121" font-size="3.9" text-anchor="middle" fill="#3a3a3a">0</text>
<line x1="322.13" y1="115.5" x2="322.13" y2="114.3" stroke="#8a8a8a" stroke-width="0.5" stroke-linecap="butt"/>
<text x="322.13" y="121" font-size="3.9" text-anchor="middle" fill="#3a3a3a">100</text>
<line x1="337.66" y1="115.5" x2="337.66" y2="114.3" stroke="#8a8a8a" stroke-width="0.5" stroke-linecap="butt"/>
<text x="337.66" y="121" font-size="3.9" text-anchor="middle" fill="#3a3a3a">200</text>
<line x1="353.19" y1="115.5" x2="353.19" y2="114.3" stroke="#8a8a8a" stroke-width="0.5" stroke-linecap="butt"/>
<text x="353.19" y="121" font-size="3.9" text-anchor="middle" fill="#3a3a3a">300</text>
<line x1="368.71" y1="115.5" x2="368.71" y2="114.3" stroke="#8a8a8a" stroke-width="0.5" stroke-linecap="butt"/>
<text x="368.71" y="121" font-size="3.9" text-anchor="middle" fill="#3a3a3a">400</text>
<line x1="384.24" y1="115.5" x2="384.24" y2="114.3" stroke="#8a8a8a" stroke-width="0.5" stroke-linecap="butt"/>
<text x="384.24" y="121" font-size="3.9" text-anchor="middle" fill="#3a3a3a">500</text>
<line x1="399.77" y1="115.5" x2="399.77" y2="114.3" stroke="#8a8a8a" stroke-width="0.5" stroke-linecap="butt"/>
<text x="399.77" y="121" font-size="3.9" text-anchor="middle" fill="#3a3a3a">600</text>
<line x1="415.3" y1="115.5" x2="415.3" y2="114.3" stroke="#8a8a8a" stroke-width="0.5" stroke-linecap="butt"/>
<text x="415.3" y="121" font-size="3.9" text-anchor="middle" fill="#3a3a3a">700</text>
<line x1="306.6" y1="115.5" x2="307.8" y2="115.5" stroke="#8a8a8a" stroke-width="0.5" stroke-linecap="butt"/>
<line x1="415.3" y1="115.5" x2="414.1" y2="115.5" stroke="#8a8a8a" stroke-width="0.5" stroke-linecap="butt"/>
<text x="305.6" y="117" font-size="4.3" text-anchor="end" fill="#3a3a3a">0.2</text>
<line x1="306.6" y1="102.38" x2="307.8" y2="102.38" stroke="#8a8a8a" stroke-width="0.5" stroke-linecap="butt"/>
<line x1="415.3" y1="102.38" x2="414.1" y2="102.38" stroke="#8a8a8a" stroke-width="0.5" stroke-linecap="butt"/>
<text x="305.6" y="103.88" font-size="4.3" text-anchor="end" fill="#3a3a3a">0.25</text>
<line x1="306.6" y1="89.27" x2="307.8" y2="89.27" stroke="#8a8a8a" stroke-width="0.5" stroke-linecap="butt"/>
<line x1="415.3" y1="89.27" x2="414.1" y2="89.27" stroke="#8a8a8a" stroke-width="0.5" stroke-linecap="butt"/>
<text x="305.6" y="90.77" font-size="4.3" text-anchor="end" fill="#3a3a3a">0.3</text>
<line x1="306.6" y1="76.15" x2="307.8" y2="76.15" stroke="#8a8a8a" stroke-width="0.5" stroke-linecap="butt"/>
<line x1="415.3" y1="76.15" x2="414.1" y2="76.15" stroke="#8a8a8a" stroke-width="0.5" stroke-linecap="butt"/>
<text x="305.6" y="77.65" font-size="4.3" text-anchor="end" fill="#3a3a3a">0.35</text>
<line x1="306.6" y1="63.03" x2="307.8" y2="63.03" stroke="#8a8a8a" stroke-width="0.5" stroke-linecap="butt"/>
<line x1="415.3" y1="63.03" x2="414.1" y2="63.03" stroke="#8a8a8a" stroke-width="0.5" stroke-linecap="butt"/>
<text x="305.6" y="64.53" font-size="4.3" text-anchor="end" fill="#3a3a3a">0.4</text>
<line x1="306.6" y1="49.92" x2="307.8" y2="49.92" stroke="#8a8a8a" stroke-width="0.5" stroke-linecap="butt"/>
<line x1="415.3" y1="49.92" x2="414.1" y2="49.92" stroke="#8a8a8a" stroke-width="0.5" stroke-linecap="butt"/>
<text x="305.6" y="51.42" font-size="4.3" text-anchor="end" fill="#3a3a3a">0.45</text>
<line x1="306.6" y1="36.8" x2="307.8" y2="36.8" stroke="#8a8a8a" stroke-width="0.5" stroke-linecap="butt"/>
<line x1="415.3" y1="36.8" x2="414.1" y2="36.8" stroke="#8a8a8a" stroke-width="0.5" stroke-linecap="butt"/>
<text x="305.6" y="38.3" font-size="4.3" text-anchor="end" fill="#3a3a3a">0.5</text>
<rect x="344.6" y="39" width="67.8" height="26.4" fill="#fff" stroke="#8a8a8a" stroke-width="0.6"/>
<line x1="345.8" y1="42.9" x2="355.6" y2="42.9" stroke="#000000" stroke-width="1.2" stroke-linecap="butt"/>
<text x="356.4" y="44.9" font-size="5.4" text-anchor="start" fill="#000">No aging</text>
<line x1="345.8" y1="49.37" x2="355.6" y2="49.37" stroke="#3cb44a" stroke-width="1.2" stroke-linecap="butt"/>
<text x="356.4" y="51.37" font-size="5.4" text-anchor="start" fill="#000">Increasing self-renewal</text>
<line x1="345.8" y1="55.84" x2="355.6" y2="55.84" stroke="#1f7e9c" stroke-width="1.2" stroke-linecap="butt"/>
<text x="356.4" y="57.84" font-size="5.4" text-anchor="start" fill="#000">Decreasing activation</text>
<line x1="345.8" y1="62.31" x2="355.6" y2="62.31" stroke="#c4573b" stroke-width="1.2" stroke-linecap="butt"/>
<text x="356.4" y="64.31" font-size="5.4" text-anchor="start" fill="#000">Regulating both</text>
<text x="361" y="33.9" font-size="9.3" text-anchor="middle" font-weight="bold" fill="#000">Activation rate r</text>
<text x="361" y="128" font-size="6.6" text-anchor="middle" fill="#262626">Time (days)</text>
<text x="297.3" y="76" font-size="6.6" text-anchor="middle" fill="#262626" transform="rotate(-90 297.3 76)">r</text>
<rect x="307.6" y="141.8" width="107.7" height="78.2" fill="#fff" stroke="none" stroke-width="1"/>
<line x1="307.6" y1="193.93" x2="415.3" y2="193.93" stroke="#eaeaea" stroke-width="0.6" stroke-linecap="butt"/>
<line x1="307.6" y1="167.87" x2="415.3" y2="167.87" stroke="#eaeaea" stroke-width="0.6" stroke-linecap="butt"/>
<line x1="322.99" y1="141.8" x2="322.99" y2="220" stroke="#eaeaea" stroke-width="0.6" stroke-linecap="butt"/>
<line x1="338.37" y1="141.8" x2="338.37" y2="220" stroke="#eaeaea" stroke-width="0.6" stroke-linecap="butt"/>
<line x1="353.76" y1="141.8" x2="353.76" y2="220" stroke="#eaeaea" stroke-width="0.6" stroke-linecap="butt"/>
<line x1="369.14" y1="141.8" x2="369.14" y2="220" stroke="#eaeaea" stroke-width="0.6" stroke-linecap="butt"/>
<line x1="384.53" y1="141.8" x2="384.53" y2="220" stroke="#eaeaea" stroke-width="0.6" stroke-linecap="butt"/>
<line x1="399.91" y1="141.8" x2="399.91" y2="220" stroke="#eaeaea" stroke-width="0.6" stroke-linecap="butt"/>
<g clip-path="url(#cb)">
<line x1="307.6" y1="199.2" x2="415.3" y2="199.2" stroke="#000000" stroke-width="1.4" stroke-linecap="butt"/>
<line x1="307.6" y1="173.2" x2="415.3" y2="173.2" stroke="#1f7e9c" stroke-width="1.2" stroke-linecap="butt"/>
<polyline points="307.6,199.15 308.51,198.42 309.41,197.7 310.32,196.99 311.22,196.29 312.13,195.59 313.03,194.91 313.94,194.24 314.84,193.57 315.75,192.91 316.65,192.26 317.56,191.62 318.46,190.99 319.37,190.36 320.27,189.75 321.18,189.14 322.08,188.54 322.99,187.94 323.89,187.36 324.8,186.78 325.7,186.21 326.61,185.64 327.51,185.08 328.42,184.53 329.32,183.99 330.23,183.46 331.13,182.93 332.04,182.4 332.94,181.89 333.85,181.38 334.75,180.88 335.66,180.38 336.56,179.89 337.47,179.4 338.37,178.93 339.28,178.45 340.18,177.99 341.09,177.53 341.99,177.08 342.9,176.63 343.8,176.18 344.71,175.75 345.61,175.32 346.52,174.89 347.42,174.47 348.33,174.05 349.23,173.64 350.14,173.24 351.04,172.84 351.95,172.45 352.85,172.06 353.76,171.67 354.66,171.29 355.57,170.92 356.47,170.55 357.38,170.18 358.28,169.82 359.19,169.47 360.09,169.11 361,168.77 361.9,168.43 362.81,168.09 363.71,167.75 364.62,167.42 365.52,167.1 366.43,166.78 367.33,166.46 368.24,166.15 369.14,165.84 370.05,165.53 370.95,165.23 371.86,164.93 372.76,164.64 373.67,164.35 374.57,164.06 375.48,163.78 376.38,163.5 377.29,163.22 378.19,162.95 379.1,162.68 380,162.42 380.91,162.15 381.81,161.9 382.72,161.64 383.62,161.39 384.53,161.14 385.43,160.89 386.34,160.65 387.24,160.41 388.15,160.18 389.05,159.94 389.96,159.71 390.86,159.48 391.77,159.26 392.67,159.04 393.58,158.82 394.48,158.6 395.39,158.39 396.29,158.18 397.2,157.97 398.1,157.76 399.01,157.56 399.91,157.36 400.82,157.16 401.72,156.97 402.63,156.78 403.53,156.59 404.44,156.4 405.34,156.21 406.25,156.03 407.15,155.85 408.06,155.67 408.96,155.49 409.87,155.32 410.77,155.15 411.68,154.98 412.58,154.81 413.49,154.64 414.39,154.48 415.3,154.32" fill="none" stroke="#c4573b" stroke-width="1.2" stroke-linejoin="round"/>
<polyline points="324.52,252.64 324.83,247.13 325.13,241.9 325.44,236.92 325.74,232.19 326.04,227.7 326.35,223.43 326.65,219.37 326.95,215.51 327.26,211.85 327.56,208.37 327.86,205.06 328.17,201.91 328.47,198.93 328.77,196.09 329.08,193.39 329.38,190.82 329.69,188.39 329.99,186.07 330.29,183.87 330.6,181.78 330.9,179.79 331.2,177.9 331.51,176.11 331.81,174.4 332.11,172.78 332.42,171.24 332.72,169.78 333.03,168.39 333.33,167.07 333.63,165.81 333.94,164.62 334.24,163.48 334.54,162.4 334.85,161.38 335.15,160.41 335.45,159.48 335.76,158.6 336.06,157.77 336.36,156.97 336.67,156.22 336.97,155.5 337.28,154.82 337.58,154.17 337.88,153.56 338.19,152.97 338.49,152.42 338.79,151.89 339.1,151.39 339.4,150.91 339.7,150.46 340.01,150.03 340.31,149.62 340.61,149.23 340.92,148.86 341.22,148.51 341.53,148.18 341.83,147.86 342.13,147.56 342.44,147.27 342.74,147 343.04,146.74 343.35,146.5 343.65,146.26 343.95,146.04 344.26,145.83 344.56,145.63 344.87,145.44 345.17,145.26 345.47,145.09 345.78,144.92 346.08,144.77 346.38,144.62 346.69,144.48 346.99,144.35 347.29,144.22 347.6,144.1 347.9,143.99 348.2,143.88 348.51,143.77 348.81,143.68 349.12,143.58 349.42,143.49 349.72,143.41 350.03,143.33 350.33,143.25 350.63,143.18 350.94,143.11 351.24,143.05 351.54,142.99 351.85,142.93 352.15,142.87 352.46,142.82 352.76,142.77 353.06,142.72 353.37,142.67 353.67,142.63 353.97,142.59 354.28,142.55 354.58,142.51 354.88,142.48 355.19,142.44 355.49,142.41 355.79,142.38 356.1,142.35 356.4,142.32 356.71,142.3 357.01,142.27 357.31,142.25 357.62,142.23 357.92,142.21 358.22,142.19 358.53,142.17 358.83,142.15 359.13,142.13 359.44,142.11 359.74,142.1 360.05,142.08 360.35,142.07 360.65,142.06 360.96,142.04 361.26,142.03 361.56,142.02 361.87,142.01 362.17,142 362.47,141.99 362.78,141.98 363.08,141.97 363.38,141.96 363.69,141.95 363.99,141.95 364.3,141.94 364.6,141.93 364.9,141.93 365.21,141.92 365.51,141.91 365.81,141.91 366.12,141.9 366.42,141.9 366.72,141.89 367.03,141.89 367.33,141.88 367.64,141.88 367.94,141.88 368.24,141.87 368.55,141.87 368.85,141.86 369.15,141.86 369.46,141.86 369.76,141.86 370.06,141.85 370.37,141.85 370.67,141.85 370.97,141.85 371.28,141.84 371.58,141.84 371.89,141.84 372.19,141.84 372.49,141.84 372.8,141.83 373.1,141.83 373.4,141.83 373.71,141.83 374.01,141.83 374.31,141.83 374.62,141.82 374.92,141.82 375.23,141.82 375.53,141.82 375.83,141.82 376.14,141.82 376.44,141.82 376.74,141.82 377.05,141.82 377.35,141.82 377.65,141.81 377.96,141.81 378.26,141.81 378.56,141.81 378.87,141.81 379.17,141.81 379.48,141.81 379.78,141.81 380.08,141.81 380.39,141.81 380.69,141.81 380.99,141.81 381.3,141.81 381.6,141.81 381.9,141.81 382.21,141.81 382.51,141.81 382.82,141.81 383.12,141.81 383.42,141.81 383.73,141.81 384.03,141.81 384.33,141.8 384.64,141.8 384.94,141.8 385.24,141.8 385.55,141.8 385.85,141.8 386.15,141.8 386.46,141.8 386.76,141.8 387.07,141.8 387.37,141.8 387.67,141.8 387.98,141.8 388.28,141.8 388.58,141.8 388.89,141.8 389.19,141.8 389.49,141.8 389.8,141.8 390.1,141.8 390.4,141.8 390.71,141.8 391.01,141.8 391.32,141.8 391.62,141.8 391.92,141.8 392.23,141.8 392.53,141.8 392.83,141.8 393.14,141.8 393.44,141.8 393.74,141.8 394.05,141.8 394.35,141.8 394.66,141.8 394.96,141.8 395.26,141.8 395.57,141.8 395.87,141.8 396.17,141.8 396.48,141.8 396.78,141.8 397.08,141.8 397.39,141.8 397.69,141.8 397.99,141.8 398.3,141.8 398.6,141.8 398.91,141.8 399.21,141.8 399.51,141.8 399.82,141.8 400.12,141.8 400.42,141.8 400.73,141.8 401.03,141.8 401.33,141.8 401.64,141.8 401.94,141.8 402.25,141.8 402.55,141.8 402.85,141.8 403.16,141.8 403.46,141.8 403.76,141.8 404.07,141.8 404.37,141.8 404.67,141.8 404.98,141.8 405.28,141.8 405.58,141.8 405.89,141.8 406.19,141.8 406.5,141.8 406.8,141.8 407.1,141.8 407.41,141.8 407.71,141.8 408.01,141.8 408.32,141.8 408.62,141.8 408.92,141.8 409.23,141.8 409.53,141.8 409.84,141.8 410.14,141.8 410.44,141.8 410.75,141.8 411.05,141.8 411.35,141.8 411.66,141.8 411.96,141.8 412.26,141.8 412.57,141.8 412.87,141.8 413.17,141.8 413.48,141.8 413.78,141.8 414.09,141.8 414.39,141.8 414.69,141.8 415,141.8 415.3,141.8" fill="none" stroke="#3cb44a" stroke-width="1.2" stroke-linejoin="round"/>
</g>
<rect x="307.6" y="141.8" width="107.7" height="78.2" fill="none" stroke="#8a8a8a" stroke-width="0.6"/>
<line x1="307.6" y1="220" x2="307.6" y2="218.8" stroke="#8a8a8a" stroke-width="0.5" stroke-linecap="butt"/>
<text x="307.6" y="225.2" font-size="3.9" text-anchor="middle" fill="#3a3a3a">0</text>
<line x1="322.99" y1="220" x2="322.99" y2="218.8" stroke="#8a8a8a" stroke-width="0.5" stroke-linecap="butt"/>
<text x="322.99" y="225.2" font-size="3.9" text-anchor="middle" fill="#3a3a3a">100</text>
<line x1="338.37" y1="220" x2="338.37" y2="218.8" stroke="#8a8a8a" stroke-width="0.5" stroke-linecap="butt"/>
<text x="338.37" y="225.2" font-size="3.9" text-anchor="middle" fill="#3a3a3a">200</text>
<line x1="353.76" y1="220" x2="353.76" y2="218.8" stroke="#8a8a8a" stroke-width="0.5" stroke-linecap="butt"/>
<text x="353.76" y="225.2" font-size="3.9" text-anchor="middle" fill="#3a3a3a">300</text>
<line x1="369.14" y1="220" x2="369.14" y2="218.8" stroke="#8a8a8a" stroke-width="0.5" stroke-linecap="butt"/>
<text x="369.14" y="225.2" font-size="3.9" text-anchor="middle" fill="#3a3a3a">400</text>
<line x1="384.53" y1="220" x2="384.53" y2="218.8" stroke="#8a8a8a" stroke-width="0.5" stroke-linecap="butt"/>
<text x="384.53" y="225.2" font-size="3.9" text-anchor="middle" fill="#3a3a3a">500</text>
<line x1="399.91" y1="220" x2="399.91" y2="218.8" stroke="#8a8a8a" stroke-width="0.5" stroke-linecap="butt"/>
<text x="399.91" y="225.2" font-size="3.9" text-anchor="middle" fill="#3a3a3a">600</text>
<line x1="415.3" y1="220" x2="415.3" y2="218.8" stroke="#8a8a8a" stroke-width="0.5" stroke-linecap="butt"/>
<text x="415.3" y="225.2" font-size="3.9" text-anchor="middle" fill="#3a3a3a">700</text>
<line x1="307.6" y1="220" x2="308.8" y2="220" stroke="#8a8a8a" stroke-width="0.5" stroke-linecap="butt"/>
<line x1="415.3" y1="220" x2="414.1" y2="220" stroke="#8a8a8a" stroke-width="0.5" stroke-linecap="butt"/>
<text x="306.6" y="221.5" font-size="4.3" text-anchor="end" fill="#3a3a3a">0.485</text>
<line x1="307.6" y1="193.93" x2="308.8" y2="193.93" stroke="#8a8a8a" stroke-width="0.5" stroke-linecap="butt"/>
<line x1="415.3" y1="193.93" x2="414.1" y2="193.93" stroke="#8a8a8a" stroke-width="0.5" stroke-linecap="butt"/>
<text x="306.6" y="195.43" font-size="4.3" text-anchor="end" fill="#3a3a3a">0.49</text>
<line x1="307.6" y1="167.87" x2="308.8" y2="167.87" stroke="#8a8a8a" stroke-width="0.5" stroke-linecap="butt"/>
<line x1="415.3" y1="167.87" x2="414.1" y2="167.87" stroke="#8a8a8a" stroke-width="0.5" stroke-linecap="butt"/>
<text x="306.6" y="169.37" font-size="4.3" text-anchor="end" fill="#3a3a3a">0.495</text>
<line x1="307.6" y1="141.8" x2="308.8" y2="141.8" stroke="#8a8a8a" stroke-width="0.5" stroke-linecap="butt"/>
<line x1="415.3" y1="141.8" x2="414.1" y2="141.8" stroke="#8a8a8a" stroke-width="0.5" stroke-linecap="butt"/>
<text x="306.6" y="143.3" font-size="4.3" text-anchor="end" fill="#3a3a3a">0.5</text>
<text x="361.4" y="138.9" font-size="9.3" text-anchor="middle" font-weight="bold" fill="#000">Self-renewal b</text>
<text x="361.4" y="232.5" font-size="6.6" text-anchor="middle" fill="#262626">Time (days)</text>
<text x="295.4" y="180.2" font-size="6.6" text-anchor="middle" fill="#262626" transform="rotate(-90 295.4 180.2)">b</text>
<rect x="33.6" y="296.3" width="165.8" height="137.2" fill="#fff" stroke="none" stroke-width="1"/>
<line x1="33.6" y1="406.06" x2="199.4" y2="406.06" stroke="#eaeaea" stroke-width="0.6" stroke-linecap="butt"/>
<line x1="33.6" y1="378.62" x2="199.4" y2="378.62" stroke="#eaeaea" stroke-width="0.6" stroke-linecap="butt"/>
<line x1="33.6" y1="351.18" x2="199.4" y2="351.18" stroke="#eaeaea" stroke-width="0.6" stroke-linecap="butt"/>
<line x1="33.6" y1="323.74" x2="199.4" y2="323.74" stroke="#eaeaea" stroke-width="0.6" stroke-linecap="butt"/>
<line x1="50.18" y1="296.3" x2="50.18" y2="433.5" stroke="#eaeaea" stroke-width="0.6" stroke-linecap="butt"/>
<line x1="66.76" y1="296.3" x2="66.76" y2="433.5" stroke="#eaeaea" stroke-width="0.6" stroke-linecap="butt"/>
<line x1="83.34" y1="296.3" x2="83.34" y2="433.5" stroke="#eaeaea" stroke-width="0.6" stroke-linecap="butt"/>
<line x1="99.92" y1="296.3" x2="99.92" y2="433.5" stroke="#eaeaea" stroke-width="0.6" stroke-linecap="butt"/>
<line x1="116.5" y1="296.3" x2="116.5" y2="433.5" stroke="#eaeaea" stroke-width="0.6" stroke-linecap="butt"/>
<line x1="133.08" y1="296.3" x2="133.08" y2="433.5" stroke="#eaeaea" stroke-width="0.6" stroke-linecap="butt"/>
<line x1="149.66" y1="296.3" x2="149.66" y2="433.5" stroke="#eaeaea" stroke-width="0.6" stroke-linecap="butt"/>
<line x1="166.24" y1="296.3" x2="166.24" y2="433.5" stroke="#eaeaea" stroke-width="0.6" stroke-linecap="butt"/>
<line x1="182.82" y1="296.3" x2="182.82" y2="433.5" stroke="#eaeaea" stroke-width="0.6" stroke-linecap="butt"/>
<polyline points="53.92,425.73 54.04,424.43 54.18,423.13 54.32,421.82 54.47,420.51 54.63,419.2 54.8,417.89 54.99,416.57 55.18,415.26 55.39,413.94 55.6,412.62 55.83,411.3 56.07,409.99 56.32,408.67 56.58,407.35 56.85,406.04 57.13,404.72 57.42,403.41 57.73,402.1 58.04,400.79 58.37,399.48 58.71,398.17 59.06,396.87 59.43,395.57 59.8,394.27 60.19,392.97 60.58,391.68 60.99,390.39 61.42,389.11 61.85,387.83 62.3,386.56 62.75,385.29 63.22,384.02 63.71,382.77 64.2,381.51 64.71,380.27 65.23,379.02 65.76,377.79 66.31,376.56 66.87,375.34 67.44,374.13 68.02,372.92 68.62,371.72 69.23,370.53 69.85,369.35 70.49,368.18 71.14,367.01 71.8,365.86 72.48,364.71 73.17,363.57 73.87,362.45 74.59,361.33 75.32,360.22 76.06,359.12 76.81,358.04 77.58,356.96 78.36,355.9 79.16,354.84 79.96,353.79 80.78,352.76 81.61,351.74 82.45,350.73 83.31,349.73 84.18,348.74 85.06,347.76 85.95,346.79 86.85,345.84 87.76,344.9 88.69,343.97 89.63,343.05 90.58,342.14 91.54,341.25 92.51,340.37 93.49,339.5 94.49,338.64 95.49,337.8 96.51,336.97 97.54,336.16 98.57,335.35 99.62,334.56 100.68,333.78 101.74,333.02 102.82,332.26 103.91,331.52 105,330.79 106.11,330.07 107.22,329.36 108.34,328.67 109.47,327.98 110.61,327.31 111.76,326.65 112.91,326 114.08,325.36 115.25,324.73 116.42,324.11 117.61,323.5 118.8,322.9 120,322.31 121.2,321.73 122.41,321.16 123.63,320.6 124.85,320.05 126.08,319.51 127.32,318.97 128.56,318.45 129.8,317.94 131.05,317.43 132.3,316.93 133.56,316.45 134.83,315.97 136.09,315.49 137.36,315.03 138.64,314.57 139.92,314.12 141.2,313.68 142.48,313.25 143.77,312.82 145.06,312.4 146.36,311.99 147.65,311.59 148.95,311.19 150.25,310.8 151.55,310.41 152.85,310.03 154.16,309.66 155.46,309.29 156.77,308.93 158.07,308.57 159.38,308.22 160.69,307.88 162,307.54 163.31,307.2 164.61,306.87 165.92,306.55 167.23,306.23 168.54,305.91 169.84,305.6 171.14,305.3 172.45,304.99 173.75,304.69 175.05,304.4 176.34,304.11 177.64,303.82 178.93,303.54 180.22,303.26 181.51,302.98 182.79,302.7 184.07,302.43 185.35,302.16 186.63,301.9 187.9,301.63 189.16,301.37 190.42,301.11 191.68,300.85 192.93,300.59 194.18,300.34 195.43,300.09 196.66,299.84 197.9,299.59 199.12,299.34" fill="none" stroke="#2b2b2b" stroke-width="1.3" stroke-linejoin="round"/>
<polyline points="58.09,425.82 58.17,424.52 58.27,423.21 58.38,421.9 58.49,420.59 58.62,419.28 58.76,417.98 58.92,416.67 59.08,415.36 59.25,414.05 59.44,412.74 59.64,411.43 59.85,410.12 60.07,408.82 60.31,407.51 60.55,406.21 60.81,404.91 61.08,403.61 61.36,402.31 61.65,401.02 61.96,399.72 62.27,398.43 62.6,397.15 62.94,395.86 63.3,394.59 63.66,393.31 64.04,392.04 64.43,390.77 64.83,389.51 65.25,388.25 65.67,386.99 66.11,385.75 66.56,384.5 67.03,383.26 67.5,382.03 67.99,380.8 68.49,379.58 69.01,378.37 69.53,377.16 70.07,375.96 70.62,374.77 71.19,373.58 71.77,372.4 72.35,371.23 72.96,370.07 73.57,368.91 74.2,367.76 74.84,366.63 75.5,365.5 76.16,364.37 76.84,363.26 77.54,362.16 78.24,361.07 78.96,359.98 79.69,358.91 80.44,357.85 81.2,356.79 81.97,355.75 82.75,354.72 83.55,353.7 84.36,352.69 85.18,351.69 86.01,350.7 86.86,349.72 87.71,348.75 88.58,347.79 89.46,346.84 90.36,345.91 91.26,344.98 92.17,344.07 93.1,343.17 94.04,342.28 94.98,341.4 95.94,340.53 96.91,339.68 97.89,338.83 98.88,338 99.88,337.18 100.89,336.37 101.91,335.57 102.94,334.78 103.98,334.01 105.03,333.25 106.08,332.49 107.15,331.75 108.23,331.02 109.31,330.3 110.4,329.59 111.5,328.89 112.61,328.2 113.72,327.52 114.85,326.85 115.98,326.19 117.12,325.54 118.26,324.9 119.41,324.27 120.57,323.65 121.74,323.04 122.91,322.44 124.09,321.85 125.27,321.27 126.46,320.7 127.66,320.13 128.86,319.58 130.06,319.03 131.27,318.49 132.49,317.96 133.71,317.44 134.94,316.93 136.17,316.43 137.4,315.93 138.64,315.44 139.88,314.96 141.12,314.49 142.37,314.03 143.62,313.57 144.88,313.12 146.14,312.68 147.4,312.24 148.66,311.82 149.92,311.4 151.19,310.98 152.46,310.58 153.73,310.18 155,309.78 156.28,309.4 157.55,309.02 158.83,308.64 160.11,308.27 161.38,307.91 162.66,307.56 163.94,307.21 165.22,306.86 166.5,306.53 167.78,306.19 169.06,305.87 170.33,305.55 171.61,305.23 172.89,304.92 174.16,304.61 175.43,304.31 176.71,304.01 177.98,303.72 179.24,303.44 180.51,303.15 181.77,302.87 183.04,302.6 184.29,302.33 185.55,302.07 186.8,301.8 188.05,301.55 189.3,301.29 190.54,301.04 191.78,300.8 193.02,300.55 194.25,300.31 195.48,300.08 196.7,299.84 197.92,299.61 199.13,299.38" fill="none" stroke="#4fc04f" stroke-width="1.2" stroke-linejoin="round"/>
<polyline points="45.12,425.22 45.26,423.88 45.4,422.52 45.55,421.17 45.72,419.81 45.89,418.45 46.08,417.09 46.28,415.73 46.49,414.37 46.71,413 46.94,411.64 47.18,410.27 47.44,408.91 47.7,407.55 47.98,406.18 48.27,404.82 48.57,403.46 48.89,402.1 49.22,400.74 49.55,399.38 49.91,398.03 50.27,396.68 50.65,395.33 51.04,393.99 51.44,392.65 51.86,391.31 52.29,389.98 52.73,388.66 53.18,387.33 53.65,386.02 54.14,384.71 54.63,383.4 55.14,382.1 55.67,380.81 56.21,379.52 56.76,378.24 57.32,376.97 57.91,375.71 58.5,374.45 59.11,373.21 59.74,371.97 60.38,370.74 61.03,369.52 61.7,368.31 62.38,367.11 63.08,365.92 63.8,364.74 64.53,363.57 65.27,362.41 66.03,361.26 66.81,360.12 67.59,358.99 68.4,357.88 69.21,356.77 70.04,355.68 70.89,354.6 71.75,353.53 72.62,352.48 73.5,351.43 74.4,350.4 75.31,349.38 76.24,348.37 77.17,347.38 78.12,346.39 79.08,345.42 80.06,344.47 81.04,343.52 82.04,342.59 83.05,341.68 84.07,340.77 85.1,339.88 86.15,339.01 87.2,338.15 88.27,337.3 89.34,336.47 90.43,335.65 91.53,334.84 92.63,334.05 93.75,333.28 94.88,332.52 96.01,331.77 97.16,331.03 98.32,330.31 99.48,329.6 100.65,328.9 101.84,328.22 103.03,327.55 104.22,326.89 105.43,326.24 106.64,325.6 107.87,324.98 109.09,324.37 110.33,323.77 111.57,323.17 112.82,322.59 114.08,322.03 115.34,321.47 116.61,320.92 117.89,320.38 119.17,319.85 120.46,319.33 121.75,318.82 123.05,318.32 124.35,317.83 125.65,317.35 126.97,316.87 128.28,316.41 129.6,315.95 130.93,315.5 132.25,315.06 133.58,314.62 134.92,314.2 136.26,313.78 137.6,313.36 138.94,312.96 140.29,312.56 141.64,312.17 142.99,311.78 144.34,311.4 145.69,311.03 147.05,310.66 148.41,310.3 149.77,309.94 151.13,309.59 152.49,309.24 153.85,308.9 155.21,308.56 156.57,308.22 157.93,307.89 159.29,307.57 160.65,307.25 162.01,306.93 163.37,306.61 164.73,306.3 166.09,305.99 167.44,305.68 168.8,305.38 170.15,305.08 171.5,304.78 172.84,304.48 174.19,304.18 175.53,303.89 176.87,303.6 178.21,303.31 179.54,303.01 180.87,302.72 182.2,302.43 183.52,302.15 184.84,301.86 186.15,301.57 187.46,301.28 188.77,300.99 190.07,300.7 191.36,300.41 192.65,300.12 193.93,299.82 195.21,299.53 196.49,299.23 197.75,298.93 199.01,298.63" fill="none" stroke="#6fb7d0" stroke-width="1.3" stroke-linejoin="round"/>
<polyline points="45.42,425.72 45.56,424.38 45.7,423.02 45.85,421.67 46.02,420.31 46.19,418.95 46.38,417.59 46.58,416.23 46.79,414.87 47.01,413.5 47.24,412.14 47.48,410.77 47.74,409.41 48,408.05 48.28,406.68 48.57,405.32 48.87,403.96 49.19,402.6 49.52,401.24 49.85,399.88 50.21,398.53 50.57,397.18 50.95,395.83 51.34,394.49 51.74,393.15 52.16,391.81 52.59,390.48 53.03,389.16 53.48,387.83 53.95,386.52 54.44,385.21 54.93,383.9 55.44,382.6 55.97,381.31 56.51,380.02 57.06,378.74 57.62,377.47 58.21,376.21 58.8,374.95 59.41,373.71 60.04,372.47 60.68,371.24 61.33,370.02 62,368.81 62.68,367.61 63.38,366.42 64.1,365.24 64.83,364.07 65.57,362.91 66.33,361.76 67.11,360.62 67.89,359.49 68.7,358.38 69.51,357.27 70.34,356.18 71.19,355.1 72.05,354.03 72.92,352.98 73.8,351.93 74.7,350.9 75.61,349.88 76.54,348.87 77.47,347.88 78.42,346.89 79.38,345.92 80.36,344.97 81.34,344.02 82.34,343.09 83.35,342.18 84.37,341.27 85.4,340.38 86.45,339.51 87.5,338.65 88.57,337.8 89.64,336.97 90.73,336.15 91.83,335.34 92.93,334.55 94.05,333.78 95.18,333.02 96.31,332.27 97.46,331.53 98.62,330.81 99.78,330.1 100.95,329.4 102.14,328.72 103.33,328.05 104.52,327.39 105.73,326.74 106.94,326.1 108.17,325.48 109.39,324.87 110.63,324.27 111.87,323.67 113.12,323.09 114.38,322.53 115.64,321.97 116.91,321.42 118.19,320.88 119.47,320.35 120.76,319.83 122.05,319.32 123.35,318.82 124.65,318.33 125.95,317.85 127.27,317.37 128.58,316.91 129.9,316.45 131.23,316 132.55,315.56 133.88,315.12 135.22,314.7 136.56,314.28 137.9,313.86 139.24,313.46 140.59,313.06 141.94,312.67 143.29,312.28 144.64,311.9 145.99,311.53 147.35,311.16 148.71,310.8 150.07,310.44 151.43,310.09 152.79,309.74 154.15,309.4 155.51,309.06 156.87,308.72 158.23,308.39 159.59,308.07 160.95,307.75 162.31,307.43 163.67,307.11 165.03,306.8 166.39,306.49 167.74,306.18 169.1,305.88 170.45,305.58 171.8,305.28 173.14,304.98 174.49,304.68 175.83,304.39 177.17,304.1 178.51,303.81 179.84,303.51 181.17,303.22 182.5,302.93 183.82,302.65 185.14,302.36 186.45,302.07 187.76,301.78 189.07,301.49 190.37,301.2 191.66,300.91 192.95,300.62 194.23,300.32 195.51,300.03 196.79,299.73 198.05,299.43 199.31,299.13" fill="none" stroke="#d8644a" stroke-width="1.3" stroke-linejoin="round"/>
<polyline points="45.12,425.72 45.26,424.38 45.4,423.02 45.55,421.67 45.72,420.31 45.89,418.95 46.08,417.59 46.28,416.23 46.49,414.87 46.71,413.5 46.94,412.14 47.18,410.77 47.44,409.41 47.7,408.05 47.98,406.68 48.27,405.32 48.57,403.96 48.89,402.6 49.22,401.24 49.55,399.88 49.91,398.53 50.27,397.18 50.65,395.83 51.04,394.49 51.44,393.15 51.86,391.81 52.29,390.48 52.73,389.16 53.18,387.83 53.65,386.52 54.14,385.21 54.63,383.9 55.14,382.6 55.67,381.31 56.21,380.02 56.76,378.74 57.32,377.47 57.91,376.21 58.5,374.95 59.11,373.71 59.74,372.47 60.38,371.24 61.03,370.02 61.7,368.81 62.38,367.61 63.08,366.42 63.8,365.24 64.53,364.07 65.27,362.91 66.03,361.76 66.81,360.62 67.59,359.49 68.4,358.38 69.21,357.27 70.04,356.18 70.89,355.1 71.75,354.03 72.62,352.98 73.5,351.93 74.4,350.9 75.31,349.88 76.24,348.87 77.17,347.88 78.12,346.89 79.08,345.92 80.06,344.97 81.04,344.02 82.04,343.09 83.05,342.18 84.07,341.27 85.1,340.38 86.15,339.51 87.2,338.65 88.27,337.8 89.34,336.97 90.43,336.15 91.53,335.34 92.63,334.55 93.75,333.78 94.88,333.02 96.01,332.27 97.16,331.53 98.32,330.81 99.48,330.1 100.65,329.4 101.84,328.72 103.03,328.05 104.22,327.39 105.43,326.74 106.64,326.1 107.87,325.48 109.09,324.87 110.33,324.27 111.57,323.67 112.82,323.09 114.08,322.53 115.34,321.97 116.61,321.42 117.89,320.88 119.17,320.35 120.46,319.83 121.75,319.32 123.05,318.82 124.35,318.33 125.65,317.85 126.97,317.37 128.28,316.91 129.6,316.45 130.93,316 132.25,315.56 133.58,315.12 134.92,314.7 136.26,314.28 137.6,313.86 138.94,313.46 140.29,313.06 141.64,312.67 142.99,312.28 144.34,311.9 145.69,311.53 147.05,311.16 148.41,310.8 149.77,310.44 151.13,310.09 152.49,309.74 153.85,309.4 155.21,309.06 156.57,308.72 157.93,308.39 159.29,308.07 160.65,307.75 162.01,307.43 163.37,307.11 164.73,306.8 166.09,306.49 167.44,306.18 168.8,305.88 170.15,305.58 171.5,305.28 172.84,304.98 174.19,304.68 175.53,304.39 176.87,304.1 178.21,303.81 179.54,303.51 180.87,303.22 182.2,302.93 183.52,302.65 184.84,302.36 186.15,302.07 187.46,301.78 188.77,301.49 190.07,301.2 191.36,300.91 192.65,300.62 193.93,300.32 195.21,300.03 196.49,299.73 197.75,299.43 199.01,299.13" fill="none" stroke="#3f7f30" stroke-width="1.3" stroke-linejoin="round"/>
<rect x="33.6" y="296.3" width="165.8" height="137.2" fill="none" stroke="#8a8a8a" stroke-width="0.6"/>
<line x1="33.6" y1="433.5" x2="33.6" y2="432" stroke="#8a8a8a" stroke-width="0.5" stroke-linecap="butt"/>
<line x1="33.6" y1="296.3" x2="33.6" y2="297.8" stroke="#8a8a8a" stroke-width="0.5" stroke-linecap="butt"/>
<text x="34.4" y="440" font-size="4.6" text-anchor="middle" fill="#3a3a3a">0</text>
<line x1="50.18" y1="433.5" x2="50.18" y2="432" stroke="#8a8a8a" stroke-width="0.5" stroke-linecap="butt"/>
<line x1="50.18" y1="296.3" x2="50.18" y2="297.8" stroke="#8a8a8a" stroke-width="0.5" stroke-linecap="butt"/>
<text x="50.98" y="440" font-size="4.6" text-anchor="middle" fill="#3a3a3a">100</text>
<line x1="66.76" y1="433.5" x2="66.76" y2="432" stroke="#8a8a8a" stroke-width="0.5" stroke-linecap="butt"/>
<line x1="66.76" y1="296.3" x2="66.76" y2="297.8" stroke="#8a8a8a" stroke-width="0.5" stroke-linecap="butt"/>
<text x="67.56" y="440" font-size="4.6" text-anchor="middle" fill="#3a3a3a">200</text>
<line x1="83.34" y1="433.5" x2="83.34" y2="432" stroke="#8a8a8a" stroke-width="0.5" stroke-linecap="butt"/>
<line x1="83.34" y1="296.3" x2="83.34" y2="297.8" stroke="#8a8a8a" stroke-width="0.5" stroke-linecap="butt"/>
<text x="84.14" y="440" font-size="4.6" text-anchor="middle" fill="#3a3a3a">300</text>
<line x1="99.92" y1="433.5" x2="99.92" y2="432" stroke="#8a8a8a" stroke-width="0.5" stroke-linecap="butt"/>
<line x1="99.92" y1="296.3" x2="99.92" y2="297.8" stroke="#8a8a8a" stroke-width="0.5" stroke-linecap="butt"/>
<text x="100.72" y="440" font-size="4.6" text-anchor="middle" fill="#3a3a3a">400</text>
<line x1="116.5" y1="433.5" x2="116.5" y2="432" stroke="#8a8a8a" stroke-width="0.5" stroke-linecap="butt"/>
<line x1="116.5" y1="296.3" x2="116.5" y2="297.8" stroke="#8a8a8a" stroke-width="0.5" stroke-linecap="butt"/>
<text x="117.3" y="440" font-size="4.6" text-anchor="middle" fill="#3a3a3a">500</text>
<line x1="133.08" y1="433.5" x2="133.08" y2="432" stroke="#8a8a8a" stroke-width="0.5" stroke-linecap="butt"/>
<line x1="133.08" y1="296.3" x2="133.08" y2="297.8" stroke="#8a8a8a" stroke-width="0.5" stroke-linecap="butt"/>
<text x="133.88" y="440" font-size="4.6" text-anchor="middle" fill="#3a3a3a">600</text>
<line x1="149.66" y1="433.5" x2="149.66" y2="432" stroke="#8a8a8a" stroke-width="0.5" stroke-linecap="butt"/>
<line x1="149.66" y1="296.3" x2="149.66" y2="297.8" stroke="#8a8a8a" stroke-width="0.5" stroke-linecap="butt"/>
<text x="150.46" y="440" font-size="4.6" text-anchor="middle" fill="#3a3a3a">700</text>
<line x1="166.24" y1="433.5" x2="166.24" y2="432" stroke="#8a8a8a" stroke-width="0.5" stroke-linecap="butt"/>
<line x1="166.24" y1="296.3" x2="166.24" y2="297.8" stroke="#8a8a8a" stroke-width="0.5" stroke-linecap="butt"/>
<text x="167.04" y="440" font-size="4.6" text-anchor="middle" fill="#3a3a3a">800</text>
<line x1="182.82" y1="433.5" x2="182.82" y2="432" stroke="#8a8a8a" stroke-width="0.5" stroke-linecap="butt"/>
<line x1="182.82" y1="296.3" x2="182.82" y2="297.8" stroke="#8a8a8a" stroke-width="0.5" stroke-linecap="butt"/>
<text x="183.62" y="440" font-size="4.6" text-anchor="middle" fill="#3a3a3a">900</text>
<line x1="199.4" y1="433.5" x2="199.4" y2="432" stroke="#8a8a8a" stroke-width="0.5" stroke-linecap="butt"/>
<line x1="199.4" y1="296.3" x2="199.4" y2="297.8" stroke="#8a8a8a" stroke-width="0.5" stroke-linecap="butt"/>
<text x="200.2" y="440" font-size="4.6" text-anchor="middle" fill="#3a3a3a">1000</text>
<line x1="33.6" y1="433.5" x2="35.1" y2="433.5" stroke="#8a8a8a" stroke-width="0.5" stroke-linecap="butt"/>
<line x1="199.4" y1="433.5" x2="197.9" y2="433.5" stroke="#8a8a8a" stroke-width="0.5" stroke-linecap="butt"/>
<text x="32.6" y="435.1" font-size="4.6" text-anchor="end" fill="#3a3a3a">0.2</text>
<line x1="33.6" y1="406.06" x2="35.1" y2="406.06" stroke="#8a8a8a" stroke-width="0.5" stroke-linecap="butt"/>
<line x1="199.4" y1="406.06" x2="197.9" y2="406.06" stroke="#8a8a8a" stroke-width="0.5" stroke-linecap="butt"/>
<text x="32.6" y="407.66" font-size="4.6" text-anchor="end" fill="#3a3a3a">0.25</text>
<line x1="33.6" y1="378.62" x2="35.1" y2="378.62" stroke="#8a8a8a" stroke-width="0.5" stroke-linecap="butt"/>
<line x1="199.4" y1="378.62" x2="197.9" y2="378.62" stroke="#8a8a8a" stroke-width="0.5" stroke-linecap="butt"/>
<text x="32.6" y="380.22" font-size="4.6" text-anchor="end" fill="#3a3a3a">0.3</text>
<line x1="33.6" y1="351.18" x2="35.1" y2="351.18" stroke="#8a8a8a" stroke-width="0.5" stroke-linecap="butt"/>
<line x1="199.4" y1="351.18" x2="197.9" y2="351.18" stroke="#8a8a8a" stroke-width="0.5" stroke-linecap="butt"/>
<text x="32.6" y="352.78" font-size="4.6" text-anchor="end" fill="#3a3a3a">0.35</text>
<line x1="33.6" y1="323.74" x2="35.1" y2="323.74" stroke="#8a8a8a" stroke-width="0.5" stroke-linecap="butt"/>
<line x1="199.4" y1="323.74" x2="197.9" y2="323.74" stroke="#8a8a8a" stroke-width="0.5" stroke-linecap="butt"/>
<text x="32.6" y="325.34" font-size="4.6" text-anchor="end" fill="#3a3a3a">0.4</text>
<line x1="33.6" y1="296.3" x2="35.1" y2="296.3" stroke="#8a8a8a" stroke-width="0.5" stroke-linecap="butt"/>
<line x1="199.4" y1="296.3" x2="197.9" y2="296.3" stroke="#8a8a8a" stroke-width="0.5" stroke-linecap="butt"/>
<text x="32.6" y="297.9" font-size="4.6" text-anchor="end" fill="#3a3a3a">0.45</text>
<rect x="168.4" y="391.6" width="28.5" height="38.6" fill="#fff" stroke="#8a8a8a" stroke-width="0.6"/>
<line x1="170" y1="396" x2="181.9" y2="396" stroke="#2b2b2b" stroke-width="1.3" stroke-linecap="butt"/>
<text x="182.6" y="398.4" font-size="6.6" text-anchor="start" fill="#000">Q+A</text>
<line x1="170" y1="403.5" x2="181.9" y2="403.5" stroke="#4fc04f" stroke-width="1.3" stroke-linecap="butt"/>
<text x="182.6" y="405.9" font-size="6.6" text-anchor="start" fill="#000">Q</text>
<line x1="170" y1="411" x2="181.9" y2="411" stroke="#6fb7d0" stroke-width="1.3" stroke-linecap="butt"/>
<text x="182.6" y="413.4" font-size="6.6" text-anchor="start" fill="#000">A</text>
<line x1="170" y1="418.5" x2="181.9" y2="418.5" stroke="#d8644a" stroke-width="1.3" stroke-linecap="butt"/>
<text x="182.6" y="420.9" font-size="6.6" text-anchor="start" fill="#000">T</text>
<line x1="170" y1="426" x2="181.9" y2="426" stroke="#3f7f30" stroke-width="1.3" stroke-linecap="butt"/>
<text x="182.6" y="428.4" font-size="6.6" text-anchor="start" fill="#000">N</text>
<text x="116.5" y="291.9" font-size="13.6" text-anchor="middle" font-weight="bold" fill="#000">Activation rate r</text>
<text x="116.5" y="448.3" font-size="8.0" text-anchor="middle" fill="#262626">Neural lineage cells</text>
<text x="22" y="365.3" font-size="8.0" text-anchor="middle" fill="#262626" transform="rotate(-90 22 365.3)">Activation r</text>
<rect x="252" y="296.3" width="165.2" height="137.2" fill="#fff" stroke="none" stroke-width="1"/>
<line x1="252" y1="419.78" x2="417.2" y2="419.78" stroke="#eaeaea" stroke-width="0.6" stroke-linecap="butt"/>
<line x1="252" y1="406.06" x2="417.2" y2="406.06" stroke="#eaeaea" stroke-width="0.6" stroke-linecap="butt"/>
<line x1="252" y1="392.34" x2="417.2" y2="392.34" stroke="#eaeaea" stroke-width="0.6" stroke-linecap="butt"/>
<line x1="252" y1="378.62" x2="417.2" y2="378.62" stroke="#eaeaea" stroke-width="0.6" stroke-linecap="butt"/>
<line x1="252" y1="364.9" x2="417.2" y2="364.9" stroke="#eaeaea" stroke-width="0.6" stroke-linecap="butt"/>
<line x1="252" y1="351.18" x2="417.2" y2="351.18" stroke="#eaeaea" stroke-width="0.6" stroke-linecap="butt"/>
<line x1="252" y1="337.46" x2="417.2" y2="337.46" stroke="#eaeaea" stroke-width="0.6" stroke-linecap="butt"/>
<line x1="252" y1="323.74" x2="417.2" y2="323.74" stroke="#eaeaea" stroke-width="0.6" stroke-linecap="butt"/>
<line x1="252" y1="310.02" x2="417.2" y2="310.02" stroke="#eaeaea" stroke-width="0.6" stroke-linecap="butt"/>
<line x1="268.52" y1="296.3" x2="268.52" y2="433.5" stroke="#eaeaea" stroke-width="0.6" stroke-linecap="butt"/>
<line x1="285.04" y1="296.3" x2="285.04" y2="433.5" stroke="#eaeaea" stroke-width="0.6" stroke-linecap="butt"/>
<line x1="301.56" y1="296.3" x2="301.56" y2="433.5" stroke="#eaeaea" stroke-width="0.6" stroke-linecap="butt"/>
<line x1="318.08" y1="296.3" x2="318.08" y2="433.5" stroke="#eaeaea" stroke-width="0.6" stroke-linecap="butt"/>
<line x1="334.6" y1="296.3" x2="334.6" y2="433.5" stroke="#eaeaea" stroke-width="0.6" stroke-linecap="butt"/>
<line x1="351.12" y1="296.3" x2="351.12" y2="433.5" stroke="#eaeaea" stroke-width="0.6" stroke-linecap="butt"/>
<line x1="367.64" y1="296.3" x2="367.64" y2="433.5" stroke="#eaeaea" stroke-width="0.6" stroke-linecap="butt"/>
<line x1="384.16" y1="296.3" x2="384.16" y2="433.5" stroke="#eaeaea" stroke-width="0.6" stroke-linecap="butt"/>
<line x1="400.68" y1="296.3" x2="400.68" y2="433.5" stroke="#eaeaea" stroke-width="0.6" stroke-linecap="butt"/>
<polyline points="272.75,308.07 273,309.33 273.26,310.58 273.54,311.83 273.83,313.08 274.13,314.32 274.44,315.56 274.76,316.8 275.1,318.03 275.45,319.26 275.81,320.49 276.18,321.71 276.57,322.92 276.96,324.13 277.37,325.34 277.79,326.55 278.23,327.75 278.67,328.94 279.12,330.13 279.59,331.32 280.07,332.5 280.56,333.67 281.06,334.85 281.57,336.01 282.09,337.17 282.62,338.33 283.17,339.48 283.72,340.62 284.29,341.76 284.86,342.9 285.45,344.03 286.05,345.15 286.66,346.27 287.27,347.38 287.9,348.49 288.54,349.59 289.19,350.68 289.84,351.77 290.51,352.85 291.19,353.93 291.88,355 292.57,356.06 293.28,357.11 294,358.16 294.72,359.21 295.45,360.24 296.2,361.27 296.95,362.3 297.71,363.31 298.48,364.32 299.26,365.32 300.05,366.31 300.85,367.3 301.66,368.28 302.47,369.25 303.29,370.22 304.13,371.17 304.97,372.12 305.81,373.06 306.67,374 307.54,374.92 308.41,375.84 309.29,376.75 310.18,377.65 311.07,378.54 311.98,379.43 312.89,380.3 313.81,381.17 314.73,382.03 315.67,382.88 316.61,383.72 317.56,384.56 318.51,385.38 319.48,386.2 320.44,387.01 321.42,387.81 322.4,388.6 323.39,389.39 324.39,390.16 325.39,390.93 326.4,391.69 327.41,392.45 328.43,393.19 329.46,393.93 330.49,394.66 331.53,395.39 332.57,396.1 333.62,396.81 334.68,397.52 335.74,398.21 336.8,398.9 337.87,399.58 338.95,400.25 340.03,400.92 341.12,401.58 342.21,402.23 343.3,402.87 344.4,403.51 345.51,404.15 346.62,404.77 347.73,405.39 348.85,406 349.97,406.61 351.09,407.21 352.22,407.8 353.35,408.39 354.49,408.97 355.63,409.55 356.77,410.11 357.92,410.68 359.07,411.23 360.23,411.79 361.38,412.33 362.54,412.87 363.7,413.4 364.87,413.93 366.04,414.46 367.21,414.97 368.38,415.48 369.56,415.99 370.73,416.49 371.92,416.99 373.1,417.48 374.28,417.96 375.47,418.44 376.66,418.92 377.85,419.39 379.04,419.85 380.23,420.31 381.42,420.77 382.62,421.22 383.82,421.67 385.01,422.11 386.21,422.55 387.41,422.98 388.61,423.41 389.82,423.83 391.02,424.25 392.22,424.67 393.42,425.08 394.63,425.49 395.83,425.89 397.03,426.29 398.24,426.69 399.44,427.08 400.64,427.46 401.85,427.85 403.05,428.23 404.25,428.61 405.46,428.98 406.66,429.35 407.86,429.71 409.06,430.08 410.26,430.44 411.45,430.79 412.65,431.15 413.84,431.5 415.04,431.84 416.23,432.19 417.42,432.53" fill="none" stroke="#2b2b2b" stroke-width="1.3" stroke-linejoin="round"/>
<polyline points="276.89,307.8 277.11,309.09 277.34,310.38 277.58,311.66 277.83,312.93 278.09,314.2 278.37,315.46 278.67,316.71 278.97,317.96 279.29,319.2 279.62,320.44 279.96,321.67 280.31,322.9 280.68,324.12 281.06,325.33 281.45,326.54 281.85,327.74 282.27,328.94 282.7,330.12 283.13,331.31 283.59,332.48 284.05,333.65 284.52,334.82 285.01,335.98 285.5,337.13 286.01,338.27 286.53,339.41 287.06,340.54 287.6,341.67 288.15,342.79 288.71,343.9 289.28,345.01 289.87,346.11 290.46,347.2 291.06,348.29 291.68,349.37 292.3,350.44 292.94,351.51 293.58,352.57 294.24,353.62 294.9,354.67 295.58,355.71 296.26,356.74 296.95,357.77 297.66,358.79 298.37,359.8 299.09,360.81 299.82,361.81 300.56,362.8 301.31,363.79 302.07,364.77 302.84,365.74 303.61,366.7 304.4,367.66 305.19,368.61 305.99,369.55 306.8,370.49 307.62,371.42 308.45,372.34 309.28,373.25 310.13,374.16 310.98,375.06 311.84,375.95 312.7,376.84 313.58,377.72 314.46,378.59 315.35,379.45 316.25,380.31 317.15,381.16 318.07,382 318.98,382.83 319.91,383.66 320.84,384.48 321.78,385.29 322.73,386.09 323.68,386.89 324.64,387.68 325.61,388.46 326.58,389.24 327.56,390 328.55,390.77 329.54,391.52 330.54,392.27 331.54,393.01 332.55,393.74 333.57,394.47 334.59,395.19 335.61,395.9 336.64,396.61 337.68,397.31 338.72,398 339.77,398.69 340.82,399.37 341.88,400.04 342.94,400.71 344.01,401.37 345.08,402.03 346.15,402.68 347.23,403.32 348.31,403.96 349.4,404.59 350.49,405.21 351.59,405.83 352.69,406.44 353.79,407.05 354.9,407.65 356.01,408.24 357.13,408.83 358.24,409.41 359.37,409.99 360.49,410.56 361.62,411.13 362.75,411.69 363.88,412.25 365.01,412.79 366.15,413.34 367.29,413.88 368.44,414.41 369.58,414.94 370.73,415.46 371.88,415.98 373.03,416.49 374.19,417 375.34,417.5 376.5,418 377.66,418.49 378.82,418.98 379.98,419.46 381.15,419.94 382.31,420.42 383.48,420.88 384.64,421.35 385.81,421.81 386.98,422.26 388.15,422.71 389.32,423.16 390.49,423.6 391.66,424.04 392.83,424.47 394,424.9 395.17,425.32 396.35,425.74 397.52,426.16 398.69,426.57 399.86,426.98 401.03,427.38 402.2,427.78 403.37,428.17 404.54,428.57 405.71,428.95 406.88,429.34 408.04,429.72 409.21,430.09 410.37,430.47 411.53,430.84 412.69,431.2 413.85,431.57 415.01,431.92 416.17,432.28 417.32,432.63" fill="none" stroke="#4fc04f" stroke-width="1.2" stroke-linejoin="round"/>
<polyline points="263.83,308.22 264.09,309.58 264.36,310.93 264.64,312.28 264.94,313.62 265.26,314.95 265.59,316.28 265.93,317.6 266.28,318.91 266.65,320.21 267.04,321.51 267.43,322.8 267.85,324.08 268.27,325.36 268.71,326.63 269.16,327.89 269.62,329.15 270.1,330.39 270.59,331.63 271.1,332.86 271.61,334.09 272.14,335.31 272.68,336.52 273.23,337.72 273.8,338.92 274.38,340.1 274.97,341.28 275.57,342.46 276.19,343.62 276.81,344.78 277.45,345.93 278.1,347.07 278.76,348.21 279.43,349.33 280.11,350.45 280.81,351.56 281.51,352.67 282.23,353.76 282.96,354.85 283.69,355.93 284.44,357 285.2,358.06 285.97,359.12 286.75,360.17 287.54,361.21 288.34,362.24 289.15,363.26 289.97,364.27 290.79,365.28 291.63,366.28 292.48,367.27 293.34,368.25 294.21,369.23 295.08,370.19 295.97,371.15 296.86,372.1 297.77,373.04 298.68,373.97 299.6,374.89 300.53,375.81 301.46,376.71 302.41,377.61 303.36,378.5 304.33,379.38 305.3,380.25 306.27,381.11 307.26,381.97 308.25,382.81 309.26,383.65 310.26,384.48 311.28,385.3 312.3,386.11 313.33,386.92 314.37,387.71 315.42,388.5 316.47,389.28 317.53,390.05 318.59,390.81 319.66,391.56 320.74,392.31 321.82,393.05 322.91,393.78 324.01,394.51 325.11,395.22 326.21,395.93 327.33,396.63 328.44,397.33 329.57,398.01 330.7,398.69 331.83,399.37 332.97,400.03 334.11,400.69 335.26,401.34 336.42,401.99 337.58,402.63 338.74,403.26 339.91,403.88 341.08,404.5 342.25,405.11 343.43,405.72 344.62,406.32 345.8,406.91 347,407.49 348.19,408.07 349.39,408.65 350.59,409.22 351.79,409.78 353,410.34 354.21,410.89 355.43,411.43 356.64,411.97 357.86,412.5 359.09,413.03 360.31,413.55 361.54,414.07 362.77,414.58 364,415.09 365.23,415.59 366.46,416.09 367.7,416.58 368.94,417.07 370.18,417.55 371.42,418.03 372.66,418.5 373.91,418.97 375.15,419.43 376.4,419.89 377.65,420.34 378.89,420.79 380.14,421.24 381.39,421.68 382.64,422.11 383.89,422.55 385.14,422.98 386.39,423.4 387.64,423.82 388.89,424.24 390.13,424.65 391.38,425.06 392.63,425.47 393.88,425.87 395.13,426.27 396.37,426.66 397.62,427.06 398.86,427.44 400.1,427.83 401.34,428.21 402.58,428.59 403.82,428.97 405.06,429.34 406.29,429.71 407.53,430.08 408.76,430.45 409.99,430.81 411.21,431.17 412.44,431.53 413.66,431.88 414.88,432.24 416.09,432.59 417.31,432.94" fill="none" stroke="#6fb7d0" stroke-width="1.3" stroke-linejoin="round"/>
<polyline points="263.83,307.42 264.09,308.78 264.36,310.13 264.64,311.48 264.94,312.82 265.26,314.15 265.59,315.48 265.93,316.8 266.28,318.11 266.65,319.41 267.04,320.71 267.43,322 267.85,323.28 268.27,324.56 268.71,325.83 269.16,327.09 269.62,328.35 270.1,329.59 270.59,330.83 271.1,332.06 271.61,333.29 272.14,334.51 272.68,335.72 273.23,336.92 273.8,338.12 274.38,339.3 274.97,340.48 275.57,341.66 276.19,342.82 276.81,343.98 277.45,345.13 278.1,346.27 278.76,347.41 279.43,348.53 280.11,349.65 280.81,350.76 281.51,351.87 282.23,352.96 282.96,354.05 283.69,355.13 284.44,356.2 285.2,357.26 285.97,358.32 286.75,359.37 287.54,360.41 288.34,361.44 289.15,362.46 289.97,363.47 290.79,364.48 291.63,365.48 292.48,366.47 293.34,367.45 294.21,368.43 295.08,369.39 295.97,370.35 296.86,371.3 297.77,372.24 298.68,373.17 299.6,374.09 300.53,375.01 301.46,375.91 302.41,376.81 303.36,377.7 304.33,378.58 305.3,379.45 306.27,380.31 307.26,381.17 308.25,382.01 309.26,382.85 310.26,383.68 311.28,384.5 312.3,385.31 313.33,386.12 314.37,386.91 315.42,387.7 316.47,388.48 317.53,389.25 318.59,390.01 319.66,390.76 320.74,391.51 321.82,392.25 322.91,392.98 324.01,393.71 325.11,394.42 326.21,395.13 327.33,395.83 328.44,396.53 329.57,397.21 330.7,397.89 331.83,398.57 332.97,399.23 334.11,399.89 335.26,400.54 336.42,401.19 337.58,401.83 338.74,402.46 339.91,403.08 341.08,403.7 342.25,404.31 343.43,404.92 344.62,405.52 345.8,406.11 347,406.69 348.19,407.27 349.39,407.85 350.59,408.42 351.79,408.98 353,409.54 354.21,410.09 355.43,410.63 356.64,411.17 357.86,411.7 359.09,412.23 360.31,412.75 361.54,413.27 362.77,413.78 364,414.29 365.23,414.79 366.46,415.29 367.7,415.78 368.94,416.27 370.18,416.75 371.42,417.23 372.66,417.7 373.91,418.17 375.15,418.63 376.4,419.09 377.65,419.54 378.89,419.99 380.14,420.44 381.39,420.88 382.64,421.31 383.89,421.75 385.14,422.18 386.39,422.6 387.64,423.02 388.89,423.44 390.13,423.85 391.38,424.26 392.63,424.67 393.88,425.07 395.13,425.47 396.37,425.86 397.62,426.26 398.86,426.64 400.1,427.03 401.34,427.41 402.58,427.79 403.82,428.17 405.06,428.54 406.29,428.91 407.53,429.28 408.76,429.65 409.99,430.01 411.21,430.37 412.44,430.73 413.66,431.08 414.88,431.44 416.09,431.79 417.31,432.14" fill="none" stroke="#d8644a" stroke-width="1.3" stroke-linejoin="round"/>
<polyline points="263.83,307.72 264.09,309.08 264.36,310.43 264.64,311.78 264.94,313.12 265.26,314.45 265.59,315.78 265.93,317.1 266.28,318.41 266.65,319.71 267.04,321.01 267.43,322.3 267.85,323.58 268.27,324.86 268.71,326.13 269.16,327.39 269.62,328.65 270.1,329.89 270.59,331.13 271.1,332.36 271.61,333.59 272.14,334.81 272.68,336.02 273.23,337.22 273.8,338.42 274.38,339.6 274.97,340.78 275.57,341.96 276.19,343.12 276.81,344.28 277.45,345.43 278.1,346.57 278.76,347.71 279.43,348.83 280.11,349.95 280.81,351.06 281.51,352.17 282.23,353.26 282.96,354.35 283.69,355.43 284.44,356.5 285.2,357.56 285.97,358.62 286.75,359.67 287.54,360.71 288.34,361.74 289.15,362.76 289.97,363.77 290.79,364.78 291.63,365.78 292.48,366.77 293.34,367.75 294.21,368.73 295.08,369.69 295.97,370.65 296.86,371.6 297.77,372.54 298.68,373.47 299.6,374.39 300.53,375.31 301.46,376.21 302.41,377.11 303.36,378 304.33,378.88 305.3,379.75 306.27,380.61 307.26,381.47 308.25,382.31 309.26,383.15 310.26,383.98 311.28,384.8 312.3,385.61 313.33,386.42 314.37,387.21 315.42,388 316.47,388.78 317.53,389.55 318.59,390.31 319.66,391.06 320.74,391.81 321.82,392.55 322.91,393.28 324.01,394.01 325.11,394.72 326.21,395.43 327.33,396.13 328.44,396.83 329.57,397.51 330.7,398.19 331.83,398.87 332.97,399.53 334.11,400.19 335.26,400.84 336.42,401.49 337.58,402.13 338.74,402.76 339.91,403.38 341.08,404 342.25,404.61 343.43,405.22 344.62,405.82 345.8,406.41 347,406.99 348.19,407.57 349.39,408.15 350.59,408.72 351.79,409.28 353,409.84 354.21,410.39 355.43,410.93 356.64,411.47 357.86,412 359.09,412.53 360.31,413.05 361.54,413.57 362.77,414.08 364,414.59 365.23,415.09 366.46,415.59 367.7,416.08 368.94,416.57 370.18,417.05 371.42,417.53 372.66,418 373.91,418.47 375.15,418.93 376.4,419.39 377.65,419.84 378.89,420.29 380.14,420.74 381.39,421.18 382.64,421.61 383.89,422.05 385.14,422.48 386.39,422.9 387.64,423.32 388.89,423.74 390.13,424.15 391.38,424.56 392.63,424.97 393.88,425.37 395.13,425.77 396.37,426.16 397.62,426.56 398.86,426.94 400.1,427.33 401.34,427.71 402.58,428.09 403.82,428.47 405.06,428.84 406.29,429.21 407.53,429.58 408.76,429.95 409.99,430.31 411.21,430.67 412.44,431.03 413.66,431.38 414.88,431.74 416.09,432.09 417.31,432.44" fill="none" stroke="#3f7f30" stroke-width="1.3" stroke-linejoin="round"/>
<rect x="252" y="296.3" width="165.2" height="137.2" fill="none" stroke="#8a8a8a" stroke-width="0.6"/>
<line x1="252" y1="433.5" x2="252" y2="432" stroke="#8a8a8a" stroke-width="0.5" stroke-linecap="butt"/>
<line x1="252" y1="296.3" x2="252" y2="297.8" stroke="#8a8a8a" stroke-width="0.5" stroke-linecap="butt"/>
<text x="252.8" y="440" font-size="4.6" text-anchor="middle" fill="#3a3a3a">0</text>
<line x1="268.52" y1="433.5" x2="268.52" y2="432" stroke="#8a8a8a" stroke-width="0.5" stroke-linecap="butt"/>
<line x1="268.52" y1="296.3" x2="268.52" y2="297.8" stroke="#8a8a8a" stroke-width="0.5" stroke-linecap="butt"/>
<text x="269.32" y="440" font-size="4.6" text-anchor="middle" fill="#3a3a3a">100</text>
<line x1="285.04" y1="433.5" x2="285.04" y2="432" stroke="#8a8a8a" stroke-width="0.5" stroke-linecap="butt"/>
<line x1="285.04" y1="296.3" x2="285.04" y2="297.8" stroke="#8a8a8a" stroke-width="0.5" stroke-linecap="butt"/>
<text x="285.84" y="440" font-size="4.6" text-anchor="middle" fill="#3a3a3a">200</text>
<line x1="301.56" y1="433.5" x2="301.56" y2="432" stroke="#8a8a8a" stroke-width="0.5" stroke-linecap="butt"/>
<line x1="301.56" y1="296.3" x2="301.56" y2="297.8" stroke="#8a8a8a" stroke-width="0.5" stroke-linecap="butt"/>
<text x="302.36" y="440" font-size="4.6" text-anchor="middle" fill="#3a3a3a">300</text>
<line x1="318.08" y1="433.5" x2="318.08" y2="432" stroke="#8a8a8a" stroke-width="0.5" stroke-linecap="butt"/>
<line x1="318.08" y1="296.3" x2="318.08" y2="297.8" stroke="#8a8a8a" stroke-width="0.5" stroke-linecap="butt"/>
<text x="318.88" y="440" font-size="4.6" text-anchor="middle" fill="#3a3a3a">400</text>
<line x1="334.6" y1="433.5" x2="334.6" y2="432" stroke="#8a8a8a" stroke-width="0.5" stroke-linecap="butt"/>
<line x1="334.6" y1="296.3" x2="334.6" y2="297.8" stroke="#8a8a8a" stroke-width="0.5" stroke-linecap="butt"/>
<text x="335.4" y="440" font-size="4.6" text-anchor="middle" fill="#3a3a3a">500</text>
<line x1="351.12" y1="433.5" x2="351.12" y2="432" stroke="#8a8a8a" stroke-width="0.5" stroke-linecap="butt"/>
<line x1="351.12" y1="296.3" x2="351.12" y2="297.8" stroke="#8a8a8a" stroke-width="0.5" stroke-linecap="butt"/>
<text x="351.92" y="440" font-size="4.6" text-anchor="middle" fill="#3a3a3a">600</text>
<line x1="367.64" y1="433.5" x2="367.64" y2="432" stroke="#8a8a8a" stroke-width="0.5" stroke-linecap="butt"/>
<line x1="367.64" y1="296.3" x2="367.64" y2="297.8" stroke="#8a8a8a" stroke-width="0.5" stroke-linecap="butt"/>
<text x="368.44" y="440" font-size="4.6" text-anchor="middle" fill="#3a3a3a">700</text>
<line x1="384.16" y1="433.5" x2="384.16" y2="432" stroke="#8a8a8a" stroke-width="0.5" stroke-linecap="butt"/>
<line x1="384.16" y1="296.3" x2="384.16" y2="297.8" stroke="#8a8a8a" stroke-width="0.5" stroke-linecap="butt"/>
<text x="384.96" y="440" font-size="4.6" text-anchor="middle" fill="#3a3a3a">800</text>
<line x1="400.68" y1="433.5" x2="400.68" y2="432" stroke="#8a8a8a" stroke-width="0.5" stroke-linecap="butt"/>
<line x1="400.68" y1="296.3" x2="400.68" y2="297.8" stroke="#8a8a8a" stroke-width="0.5" stroke-linecap="butt"/>
<text x="401.48" y="440" font-size="4.6" text-anchor="middle" fill="#3a3a3a">900</text>
<line x1="417.2" y1="433.5" x2="417.2" y2="432" stroke="#8a8a8a" stroke-width="0.5" stroke-linecap="butt"/>
<line x1="417.2" y1="296.3" x2="417.2" y2="297.8" stroke="#8a8a8a" stroke-width="0.5" stroke-linecap="butt"/>
<text x="418" y="440" font-size="4.6" text-anchor="middle" fill="#3a3a3a">1000</text>
<line x1="252" y1="433.5" x2="253.5" y2="433.5" stroke="#8a8a8a" stroke-width="0.5" stroke-linecap="butt"/>
<line x1="417.2" y1="433.5" x2="415.7" y2="433.5" stroke="#8a8a8a" stroke-width="0.5" stroke-linecap="butt"/>
<text x="251.2" y="435" font-size="4.5" text-anchor="end" fill="#3a3a3a">0.489</text>
<line x1="252" y1="419.78" x2="253.5" y2="419.78" stroke="#8a8a8a" stroke-width="0.5" stroke-linecap="butt"/>
<line x1="417.2" y1="419.78" x2="415.7" y2="419.78" stroke="#8a8a8a" stroke-width="0.5" stroke-linecap="butt"/>
<text x="251.2" y="421.28" font-size="4.5" text-anchor="end" fill="#3a3a3a">0.49</text>
<line x1="252" y1="406.06" x2="253.5" y2="406.06" stroke="#8a8a8a" stroke-width="0.5" stroke-linecap="butt"/>
<line x1="417.2" y1="406.06" x2="415.7" y2="406.06" stroke="#8a8a8a" stroke-width="0.5" stroke-linecap="butt"/>
<text x="251.2" y="407.56" font-size="4.5" text-anchor="end" fill="#3a3a3a">0.491</text>
<line x1="252" y1="392.34" x2="253.5" y2="392.34" stroke="#8a8a8a" stroke-width="0.5" stroke-linecap="butt"/>
<line x1="417.2" y1="392.34" x2="415.7" y2="392.34" stroke="#8a8a8a" stroke-width="0.5" stroke-linecap="butt"/>
<text x="251.2" y="393.84" font-size="4.5" text-anchor="end" fill="#3a3a3a">0.492</text>
<line x1="252" y1="378.62" x2="253.5" y2="378.62" stroke="#8a8a8a" stroke-width="0.5" stroke-linecap="butt"/>
<line x1="417.2" y1="378.62" x2="415.7" y2="378.62" stroke="#8a8a8a" stroke-width="0.5" stroke-linecap="butt"/>
<text x="251.2" y="380.12" font-size="4.5" text-anchor="end" fill="#3a3a3a">0.493</text>
<line x1="252" y1="364.9" x2="253.5" y2="364.9" stroke="#8a8a8a" stroke-width="0.5" stroke-linecap="butt"/>
<line x1="417.2" y1="364.9" x2="415.7" y2="364.9" stroke="#8a8a8a" stroke-width="0.5" stroke-linecap="butt"/>
<text x="251.2" y="366.4" font-size="4.5" text-anchor="end" fill="#3a3a3a">0.494</text>
<line x1="252" y1="351.18" x2="253.5" y2="351.18" stroke="#8a8a8a" stroke-width="0.5" stroke-linecap="butt"/>
<line x1="417.2" y1="351.18" x2="415.7" y2="351.18" stroke="#8a8a8a" stroke-width="0.5" stroke-linecap="butt"/>
<text x="251.2" y="352.68" font-size="4.5" text-anchor="end" fill="#3a3a3a">0.495</text>
<line x1="252" y1="337.46" x2="253.5" y2="337.46" stroke="#8a8a8a" stroke-width="0.5" stroke-linecap="butt"/>
<line x1="417.2" y1="337.46" x2="415.7" y2="337.46" stroke="#8a8a8a" stroke-width="0.5" stroke-linecap="butt"/>
<text x="251.2" y="338.96" font-size="4.5" text-anchor="end" fill="#3a3a3a">0.496</text>
<line x1="252" y1="323.74" x2="253.5" y2="323.74" stroke="#8a8a8a" stroke-width="0.5" stroke-linecap="butt"/>
<line x1="417.2" y1="323.74" x2="415.7" y2="323.74" stroke="#8a8a8a" stroke-width="0.5" stroke-linecap="butt"/>
<text x="251.2" y="325.24" font-size="4.5" text-anchor="end" fill="#3a3a3a">0.497</text>
<line x1="252" y1="310.02" x2="253.5" y2="310.02" stroke="#8a8a8a" stroke-width="0.5" stroke-linecap="butt"/>
<line x1="417.2" y1="310.02" x2="415.7" y2="310.02" stroke="#8a8a8a" stroke-width="0.5" stroke-linecap="butt"/>
<text x="251.2" y="311.52" font-size="4.5" text-anchor="end" fill="#3a3a3a">0.498</text>
<line x1="252" y1="296.3" x2="253.5" y2="296.3" stroke="#8a8a8a" stroke-width="0.5" stroke-linecap="butt"/>
<line x1="417.2" y1="296.3" x2="415.7" y2="296.3" stroke="#8a8a8a" stroke-width="0.5" stroke-linecap="butt"/>
<text x="251.2" y="297.8" font-size="4.5" text-anchor="end" fill="#3a3a3a">0.499</text>
<rect x="386.7" y="300" width="27.8" height="38.3" fill="#fff" stroke="#8a8a8a" stroke-width="0.6"/>
<line x1="387.8" y1="303.5" x2="399.9" y2="303.5" stroke="#2b2b2b" stroke-width="1.3" stroke-linecap="butt"/>
<text x="400.3" y="305.9" font-size="6.6" text-anchor="start" fill="#000">Q+A</text>
<line x1="387.8" y1="311.15" x2="399.9" y2="311.15" stroke="#4fc04f" stroke-width="1.3" stroke-linecap="butt"/>
<text x="400.3" y="313.55" font-size="6.6" text-anchor="start" fill="#000">Q</text>
<line x1="387.8" y1="318.8" x2="399.9" y2="318.8" stroke="#6fb7d0" stroke-width="1.3" stroke-linecap="butt"/>
<text x="400.3" y="321.2" font-size="6.6" text-anchor="start" fill="#000">A</text>
<line x1="387.8" y1="326.45" x2="399.9" y2="326.45" stroke="#d8644a" stroke-width="1.3" stroke-linecap="butt"/>
<text x="400.3" y="328.85" font-size="6.6" text-anchor="start" fill="#000">T</text>
<line x1="387.8" y1="334.1" x2="399.9" y2="334.1" stroke="#3f7f30" stroke-width="1.3" stroke-linecap="butt"/>
<text x="400.3" y="336.5" font-size="6.6" text-anchor="start" fill="#000">N</text>
<text x="334.6" y="291.9" font-size="13.6" text-anchor="middle" font-weight="bold" fill="#000">Self-renewal b</text>
<text x="334.6" y="448.3" font-size="8.0" text-anchor="middle" fill="#262626">Neural lineage cells</text>
<text x="237.3" y="364" font-size="8.0" text-anchor="middle" fill="#262626" transform="rotate(-90 237.3 364)">Self-renewal b</text>
<line x1="464.3" y1="422.2" x2="513.9" y2="442.8" stroke="#e6e6e6" stroke-width="0.5" stroke-linecap="butt"/>
<line x1="480.27" y1="421.61" x2="529.86" y2="442.2" stroke="#e6e6e6" stroke-width="0.5" stroke-linecap="butt"/>
<line x1="496.24" y1="421.02" x2="545.82" y2="441.6" stroke="#e6e6e6" stroke-width="0.5" stroke-linecap="butt"/>
<line x1="512.21" y1="420.43" x2="561.78" y2="441" stroke="#e6e6e6" stroke-width="0.5" stroke-linecap="butt"/>
<line x1="528.18" y1="419.84" x2="577.74" y2="440.4" stroke="#e6e6e6" stroke-width="0.5" stroke-linecap="butt"/>
<line x1="544.15" y1="419.25" x2="593.7" y2="439.8" stroke="#e6e6e6" stroke-width="0.5" stroke-linecap="butt"/>
<line x1="560.12" y1="418.66" x2="609.66" y2="439.2" stroke="#e6e6e6" stroke-width="0.5" stroke-linecap="butt"/>
<line x1="576.09" y1="418.07" x2="625.62" y2="438.6" stroke="#e6e6e6" stroke-width="0.5" stroke-linecap="butt"/>
<line x1="592.06" y1="417.48" x2="641.58" y2="438" stroke="#e6e6e6" stroke-width="0.5" stroke-linecap="butt"/>
<line x1="608.03" y1="416.89" x2="657.54" y2="437.4" stroke="#e6e6e6" stroke-width="0.5" stroke-linecap="butt"/>
<line x1="624" y1="416.3" x2="673.5" y2="436.8" stroke="#e6e6e6" stroke-width="0.5" stroke-linecap="butt"/>
<line x1="464.3" y1="422.2" x2="624" y2="416.3" stroke="#e6e6e6" stroke-width="0.5" stroke-linecap="butt"/>
<line x1="480.83" y1="429.07" x2="640.5" y2="423.13" stroke="#e6e6e6" stroke-width="0.5" stroke-linecap="butt"/>
<line x1="497.37" y1="435.93" x2="657" y2="429.97" stroke="#e6e6e6" stroke-width="0.5" stroke-linecap="butt"/>
<line x1="513.9" y1="442.8" x2="673.5" y2="436.8" stroke="#e6e6e6" stroke-width="0.5" stroke-linecap="butt"/>
<line x1="464.3" y1="422.2" x2="464.3" y2="304.3" stroke="#e6e6e6" stroke-width="0.5" stroke-linecap="butt"/>
<line x1="480.27" y1="421.61" x2="480.29" y2="303.71" stroke="#e6e6e6" stroke-width="0.5" stroke-linecap="butt"/>
<line x1="496.24" y1="421.02" x2="496.28" y2="303.12" stroke="#e6e6e6" stroke-width="0.5" stroke-linecap="butt"/>
<line x1="512.21" y1="420.43" x2="512.27" y2="302.53" stroke="#e6e6e6" stroke-width="0.5" stroke-linecap="butt"/>
<line x1="528.18" y1="419.84" x2="528.26" y2="301.94" stroke="#e6e6e6" stroke-width="0.5" stroke-linecap="butt"/>
<line x1="544.15" y1="419.25" x2="544.25" y2="301.35" stroke="#e6e6e6" stroke-width="0.5" stroke-linecap="butt"/>
<line x1="560.12" y1="418.66" x2="560.24" y2="300.76" stroke="#e6e6e6" stroke-width="0.5" stroke-linecap="butt"/>
<line x1="576.09" y1="418.07" x2="576.23" y2="300.17" stroke="#e6e6e6" stroke-width="0.5" stroke-linecap="butt"/>
<line x1="592.06" y1="417.48" x2="592.22" y2="299.58" stroke="#e6e6e6" stroke-width="0.5" stroke-linecap="butt"/>
<line x1="608.03" y1="416.89" x2="608.21" y2="298.99" stroke="#e6e6e6" stroke-width="0.5" stroke-linecap="butt"/>
<line x1="624" y1="416.3" x2="624.2" y2="298.4" stroke="#e6e6e6" stroke-width="0.5" stroke-linecap="butt"/>
<line x1="464.3" y1="422.2" x2="624" y2="416.3" stroke="#e6e6e6" stroke-width="0.5" stroke-linecap="butt"/>
<line x1="464.3" y1="398.62" x2="624.04" y2="392.72" stroke="#e6e6e6" stroke-width="0.5" stroke-linecap="butt"/>
<line x1="464.3" y1="375.04" x2="624.08" y2="369.14" stroke="#e6e6e6" stroke-width="0.5" stroke-linecap="butt"/>
<line x1="464.3" y1="351.46" x2="624.12" y2="345.56" stroke="#e6e6e6" stroke-width="0.5" stroke-linecap="butt"/>
<line x1="464.3" y1="327.88" x2="624.16" y2="321.98" stroke="#e6e6e6" stroke-width="0.5" stroke-linecap="butt"/>
<line x1="464.3" y1="304.3" x2="624.2" y2="298.4" stroke="#e6e6e6" stroke-width="0.5" stroke-linecap="butt"/>
<line x1="624" y1="416.3" x2="624.2" y2="298.4" stroke="#e6e6e6" stroke-width="0.5" stroke-linecap="butt"/>
<line x1="640.5" y1="423.13" x2="640.23" y2="305.33" stroke="#e6e6e6" stroke-width="0.5" stroke-linecap="butt"/>
<line x1="657" y1="429.97" x2="656.27" y2="312.27" stroke="#e6e6e6" stroke-width="0.5" stroke-linecap="butt"/>
<line x1="624" y1="416.3" x2="673.5" y2="436.8" stroke="#e6e6e6" stroke-width="0.5" stroke-linecap="butt"/>
<line x1="624.04" y1="392.72" x2="673.26" y2="413.28" stroke="#e6e6e6" stroke-width="0.5" stroke-linecap="butt"/>
<line x1="624.08" y1="369.14" x2="673.02" y2="389.76" stroke="#e6e6e6" stroke-width="0.5" stroke-linecap="butt"/>
<line x1="624.12" y1="345.56" x2="672.78" y2="366.24" stroke="#e6e6e6" stroke-width="0.5" stroke-linecap="butt"/>
<line x1="624.16" y1="321.98" x2="672.54" y2="342.72" stroke="#e6e6e6" stroke-width="0.5" stroke-linecap="butt"/>
<line x1="624.2" y1="298.4" x2="672.3" y2="319.2" stroke="#e6e6e6" stroke-width="0.5" stroke-linecap="butt"/>
<line x1="464.3" y1="304.3" x2="464.3" y2="422.2" stroke="#777" stroke-width="0.7" stroke-linecap="butt"/>
<line x1="464.3" y1="422.2" x2="513.9" y2="442.8" stroke="#999" stroke-width="0.6" stroke-linecap="butt"/>
<line x1="513.9" y1="442.8" x2="673.5" y2="436.8" stroke="#999" stroke-width="0.6" stroke-linecap="butt"/>
<line x1="513.9" y1="442.8" x2="514.8" y2="444.4" stroke="#999" stroke-width="0.5" stroke-linecap="butt"/>
<line x1="529.86" y1="442.2" x2="530.76" y2="443.8" stroke="#999" stroke-width="0.5" stroke-linecap="butt"/>
<line x1="545.82" y1="441.6" x2="546.72" y2="443.2" stroke="#999" stroke-width="0.5" stroke-linecap="butt"/>
<line x1="561.78" y1="441" x2="562.68" y2="442.6" stroke="#999" stroke-width="0.5" stroke-linecap="butt"/>
<line x1="577.74" y1="440.4" x2="578.64" y2="442" stroke="#999" stroke-width="0.5" stroke-linecap="butt"/>
<line x1="593.7" y1="439.8" x2="594.6" y2="441.4" stroke="#999" stroke-width="0.5" stroke-linecap="butt"/>
<line x1="609.66" y1="439.2" x2="610.56" y2="440.8" stroke="#999" stroke-width="0.5" stroke-linecap="butt"/>
<line x1="625.62" y1="438.6" x2="626.52" y2="440.2" stroke="#999" stroke-width="0.5" stroke-linecap="butt"/>
<line x1="641.58" y1="438" x2="642.48" y2="439.6" stroke="#999" stroke-width="0.5" stroke-linecap="butt"/>
<line x1="657.54" y1="437.4" x2="658.44" y2="439" stroke="#999" stroke-width="0.5" stroke-linecap="butt"/>
<line x1="673.5" y1="436.8" x2="674.4" y2="438.4" stroke="#999" stroke-width="0.5" stroke-linecap="butt"/>
<line x1="464.3" y1="422.2" x2="462.1" y2="422.8" stroke="#999" stroke-width="0.5" stroke-linecap="butt"/>
<line x1="480.83" y1="429.07" x2="478.63" y2="429.67" stroke="#999" stroke-width="0.5" stroke-linecap="butt"/>
<line x1="497.37" y1="435.93" x2="495.17" y2="436.53" stroke="#999" stroke-width="0.5" stroke-linecap="butt"/>
<line x1="513.9" y1="442.8" x2="511.7" y2="443.4" stroke="#999" stroke-width="0.5" stroke-linecap="butt"/>
<line x1="461.3" y1="422.2" x2="464.3" y2="422.2" stroke="#888" stroke-width="0.5" stroke-linecap="butt"/>
<text x="460.6" y="422.8" font-size="4.3" text-anchor="end" fill="#555">0.2</text>
<line x1="461.3" y1="398.62" x2="464.3" y2="398.62" stroke="#888" stroke-width="0.5" stroke-linecap="butt"/>
<text x="460.6" y="399.22" font-size="4.3" text-anchor="end" fill="#555">0.25</text>
<line x1="461.3" y1="375.04" x2="464.3" y2="375.04" stroke="#888" stroke-width="0.5" stroke-linecap="butt"/>
<text x="460.6" y="375.64" font-size="4.3" text-anchor="end" fill="#555">0.3</text>
<line x1="461.3" y1="351.46" x2="464.3" y2="351.46" stroke="#888" stroke-width="0.5" stroke-linecap="butt"/>
<text x="460.6" y="352.06" font-size="4.3" text-anchor="end" fill="#555">0.35</text>
<line x1="461.3" y1="327.88" x2="464.3" y2="327.88" stroke="#888" stroke-width="0.5" stroke-linecap="butt"/>
<text x="460.6" y="328.48" font-size="4.3" text-anchor="end" fill="#555">0.4</text>
<line x1="461.3" y1="304.3" x2="464.3" y2="304.3" stroke="#888" stroke-width="0.5" stroke-linecap="butt"/>
<text x="460.6" y="304.9" font-size="4.3" text-anchor="end" fill="#555">0.45</text>
<text x="456.3" y="426.8" font-size="3.3" text-anchor="middle" fill="#555">6000</text>
<text x="472.83" y="433.67" font-size="3.3" text-anchor="middle" fill="#555">4000</text>
<text x="489.37" y="440.53" font-size="3.3" text-anchor="middle" fill="#555">2000</text>
<text x="505.9" y="447.4" font-size="3.3" text-anchor="middle" fill="#555">0</text>
<text x="519.5" y="449.5" font-size="3.4" text-anchor="middle" fill="#555">0</text>
<text x="535.71" y="448.9" font-size="3.4" text-anchor="middle" fill="#555">100</text>
<text x="551.92" y="448.3" font-size="3.4" text-anchor="middle" fill="#555">200</text>
<text x="568.13" y="447.7" font-size="3.4" text-anchor="middle" fill="#555">300</text>
<text x="584.34" y="447.1" font-size="3.4" text-anchor="middle" fill="#555">400</text>
<text x="600.55" y="446.5" font-size="3.4" text-anchor="middle" fill="#555">500</text>
<text x="616.76" y="445.9" font-size="3.4" text-anchor="middle" fill="#555">600</text>
<text x="632.97" y="445.3" font-size="3.4" text-anchor="middle" fill="#555">700</text>
<text x="649.18" y="444.7" font-size="3.4" text-anchor="middle" fill="#555">800</text>
<text x="665.39" y="444.1" font-size="3.4" text-anchor="middle" fill="#555">900</text>
<text x="681.6" y="443.5" font-size="3.4" text-anchor="middle" fill="#555">1000</text>
<polyline points="525.96,434.29 525.96,433.39 525.97,432.49 525.98,431.6 525.99,430.7 526,429.8 526.01,428.9 526.03,428 526.05,427.09 526.08,426.19 526.1,425.29 526.13,424.38 526.16,423.48 526.2,422.57 526.23,421.67 526.27,420.76 526.32,419.86 526.36,418.95 526.41,418.04 526.46,417.13 526.52,416.23 526.57,415.32 526.63,414.41 526.7,413.5 526.76,412.59 526.83,411.68 526.9,410.77 526.98,409.87 527.06,408.96 527.14,408.05 527.23,407.14 527.31,406.23 527.41,405.32 527.5,404.41 527.6,403.5 527.7,402.6 527.8,401.69 527.91,400.78 528.02,399.87 528.14,398.97 528.26,398.06 528.38,397.16 528.51,396.25 528.63,395.34 528.77,394.44 528.9,393.54 529.04,392.63 529.19,391.73 529.33,390.83 529.49,389.93 529.64,389.03 529.8,388.13 529.96,387.23 530.13,386.33 530.3,385.43 530.47,384.54 530.65,383.64 530.83,382.75 531.02,381.86 531.2,380.96 531.4,380.07 531.6,379.18 531.8,378.29 532,377.41 532.21,376.52 532.43,375.64 532.64,374.75 532.87,373.87 533.09,372.99 533.32,372.11 533.56,371.23 533.8,370.35 534.04,369.48 534.29,368.61 534.54,367.73 534.8,366.86 535.06,366 535.32,365.13 535.59,364.26 535.87,363.4 536.15,362.54 536.43,361.68 536.72,360.82 537.01,359.97 537.31,359.11 537.61,358.26 537.92,357.41 538.23,356.56 538.54,355.72 538.87,354.87 539.19,354.03 539.52,353.19 539.86,352.35 540.2,351.52 540.54,350.69 540.89,349.85 541.25,349.03 541.61,348.2 541.97,347.38 542.34,346.56 542.72,345.74 543.1,344.92 543.48,344.11 543.87,343.3 544.27,342.49 544.67,341.69 545.07,340.88 545.48,340.08 545.9,339.29 546.32,338.49 546.75,337.7 547.18,336.91 547.62,336.13 548.06,335.34 548.51,334.56 548.96,333.79 549.42,333.01 549.89,332.24 550.36,331.48 550.83,330.71 551.32,329.95 551.8,329.19 552.3,328.44 552.79,327.69 553.3,326.94 553.81,326.2 554.32,325.46 554.85,324.72 555.37,323.98 555.91,323.25 556.44,322.53 556.99,321.8 557.54,321.08 558.1,320.37 558.66,319.65 559.23,318.94 559.8,318.24 560.38,317.54 560.97,316.84 561.56,316.15 562.16,315.46 562.76,314.77 563.38,314.09 563.99,313.41 564.62,312.74 565.25,312.07 565.88,311.4 566.52,310.74 567.17,310.08 567.83,309.43 568.49,308.78 569.16,308.14 569.83,307.5 570.51,306.86 571.2,306.23 571.89,305.6 572.59,304.98 573.3,304.36 574.01,303.75 574.73,303.14" fill="none" stroke="#3f9fc6" stroke-width="1" stroke-linejoin="round"/>
<polyline points="529.41,434.52 529.4,433.51 529.39,432.51 529.39,431.51 529.4,430.51 529.41,429.51 529.44,428.51 529.47,427.5 529.51,426.5 529.55,425.5 529.61,424.5 529.67,423.5 529.73,422.5 529.81,421.5 529.9,420.5 529.99,419.51 530.09,418.51 530.19,417.52 530.31,416.52 530.43,415.53 530.56,414.54 530.7,413.55 530.84,412.56 531,411.58 531.16,410.59 531.32,409.61 531.5,408.63 531.68,407.65 531.88,406.67 532.08,405.69 532.28,404.72 532.5,403.75 532.72,402.78 532.95,401.81 533.19,400.85 533.43,399.89 533.69,398.93 533.95,397.98 534.22,397.02 534.49,396.07 534.78,395.13 535.07,394.18 535.37,393.24 535.68,392.31 535.99,391.37 536.32,390.44 536.65,389.52 536.99,388.59 537.33,387.67 537.69,386.76 538.05,385.85 538.42,384.94 538.8,384.03 539.19,383.14 539.58,382.24 539.98,381.35 540.39,380.46 540.81,379.58 541.24,378.7 541.67,377.83 542.11,376.96 542.56,376.1 543.02,375.24 543.48,374.39 543.96,373.54 544.44,372.7 544.93,371.86 545.42,371.03 545.93,370.2 546.44,369.38 546.96,368.56 547.49,367.75 548.03,366.95 548.57,366.15 549.12,365.36 549.68,364.57 550.25,363.79 550.83,363.02 551.41,362.25 552.01,361.49 552.61,360.73 553.22,359.98 553.83,359.24 554.46,358.5 555.09,357.78 555.73,357.05 556.38,356.34 557.04,355.63 557.7,354.93 558.37,354.24 559.05,353.55 559.74,352.87 560.44,352.2 561.14,351.54 561.85,350.88 562.57,350.23 563.29,349.58 564.03,348.94 564.77,348.31 565.51,347.69 566.26,347.07 567.02,346.47 567.79,345.86 568.56,345.27 569.34,344.68 570.12,344.1 570.92,343.52 571.71,342.95 572.52,342.39 573.32,341.84 574.14,341.29 574.96,340.75 575.78,340.22 576.61,339.69 577.45,339.17 578.29,338.66 579.14,338.16 579.99,337.66 580.85,337.16 581.71,336.68 582.58,336.2 583.45,335.73 584.32,335.26 585.2,334.81 586.09,334.35 586.97,333.91 587.87,333.47 588.76,333.04 589.66,332.62 590.57,332.2 591.48,331.79 592.39,331.38 593.3,330.99 594.22,330.6 595.14,330.21 596.07,329.84 596.99,329.47 597.93,329.1 598.86,328.74 599.8,328.39 600.73,328.05 601.68,327.71 602.62,327.38 603.57,327.06 604.52,326.74 605.47,326.43 606.42,326.13 607.38,325.83 608.33,325.54 609.29,325.26 610.25,324.98 611.22,324.71 612.18,324.44 613.14,324.19 614.11,323.94 615.08,323.69 616.05,323.45 617.02,323.22 617.99,323 618.96,322.78" fill="none" stroke="#52bd52" stroke-width="1" stroke-linejoin="round"/>
<polyline points="531.84,435.43 531.85,434.11 531.87,432.8 531.92,431.5 531.97,430.2 532.05,428.91 532.14,427.63 532.25,426.35 532.37,425.08 532.51,423.81 532.67,422.55 532.84,421.3 533.03,420.06 533.23,418.82 533.45,417.59 533.68,416.36 533.93,415.14 534.2,413.93 534.47,412.73 534.77,411.53 535.08,410.34 535.4,409.16 535.74,407.99 536.09,406.82 536.45,405.66 536.83,404.5 537.23,403.36 537.63,402.22 538.05,401.09 538.49,399.96 538.94,398.84 539.4,397.73 539.87,396.63 540.36,395.54 540.86,394.45 541.38,393.37 541.91,392.3 542.44,391.24 543,390.18 543.56,389.13 544.14,388.09 544.73,387.06 545.33,386.04 545.94,385.02 546.57,384.01 547.21,383.01 547.86,382.02 548.52,381.04 549.19,380.06 549.87,379.1 550.57,378.14 551.27,377.19 551.99,376.24 552.72,375.31 553.46,374.38 554.21,373.47 554.96,372.56 555.73,371.66 556.52,370.77 557.31,369.89 558.11,369.01 558.92,368.15 559.74,367.29 560.57,366.44 561.41,365.6 562.26,364.77 563.11,363.95 563.98,363.14 564.86,362.34 565.75,361.54 566.64,360.76 567.54,359.98 568.46,359.22 569.38,358.46 570.31,357.71 571.24,356.97 572.19,356.24 573.14,355.52 574.1,354.8 575.07,354.1 576.05,353.4 577.03,352.71 578.02,352.03 579.02,351.36 580.03,350.69 581.04,350.04 582.06,349.39 583.08,348.75 584.11,348.11 585.15,347.49 586.19,346.87 587.24,346.26 588.3,345.66 589.36,345.06 590.43,344.47 591.5,343.89 592.57,343.32 593.66,342.75 594.74,342.2 595.84,341.64 596.93,341.1 598.03,340.56 599.14,340.03 600.25,339.5 601.36,338.98 602.48,338.47 603.6,337.97 604.72,337.47 605.85,336.97 606.98,336.49 608.12,336.01 609.26,335.53 610.4,335.06 611.54,334.6 612.69,334.14 613.84,333.69 614.99,333.25 616.14,332.81 617.3,332.37 618.46,331.94 619.61,331.52 620.78,331.1 621.94,330.69 623.1,330.28 624.27,329.88 625.43,329.48 626.6,329.09 627.77,328.7 628.94,328.32 630.11,327.94 631.28,327.57 632.44,327.2 633.61,326.83 634.78,326.47 635.95,326.12 637.12,325.77 638.29,325.42 639.46,325.07 640.63,324.73 641.79,324.4 642.96,324.07 644.12,323.74 645.28,323.42 646.45,323.1 647.6,322.78 648.76,322.47 649.92,322.16 651.07,321.85 652.22,321.55 653.37,321.25 654.52,320.95 655.66,320.65 656.8,320.36 657.94,320.08 659.08,319.79 660.21,319.51 661.34,319.23 662.46,318.95 663.59,318.68 664.7,318.4" fill="none" stroke="#d4654d" stroke-width="1" stroke-linejoin="round"/>
<rect x="474.1" y="310.5" width="27.7" height="21.9" fill="#fff" stroke="#888" stroke-width="0.5"/>
<line x1="474.6" y1="314.4" x2="483.6" y2="314.4" stroke="#4cbd4c" stroke-width="1" stroke-linecap="butt"/>
<text x="484.9" y="316.3" font-size="5.4" text-anchor="start" fill="#222">r(Q,A)</text>
<line x1="474.6" y1="321.45" x2="483.6" y2="321.45" stroke="#3a9cc4" stroke-width="1" stroke-linecap="butt"/>
<text x="484.9" y="323.35" font-size="5.4" text-anchor="start" fill="#222">r(Q,T)</text>
<line x1="474.6" y1="328.5" x2="483.6" y2="328.5" stroke="#d5614a" stroke-width="1" stroke-linecap="butt"/>
<text x="484.9" y="330.4" font-size="5.4" text-anchor="start" fill="#222">r(Q+A)</text>
<text x="0" y="0" font-size="11.9" font-weight="bold" text-anchor="middle" fill="#000" transform="translate(569.2 293.8) scale(0.907 1)">Activation rate r</text>
<text x="473.5" y="449" font-size="6.5" text-anchor="middle" fill="#333">A - T - Q+A</text>
<text x="598.2" y="455.8" font-size="6.5" text-anchor="middle" fill="#333">Q - Q - Q+A</text>
</svg>
</body></html>
